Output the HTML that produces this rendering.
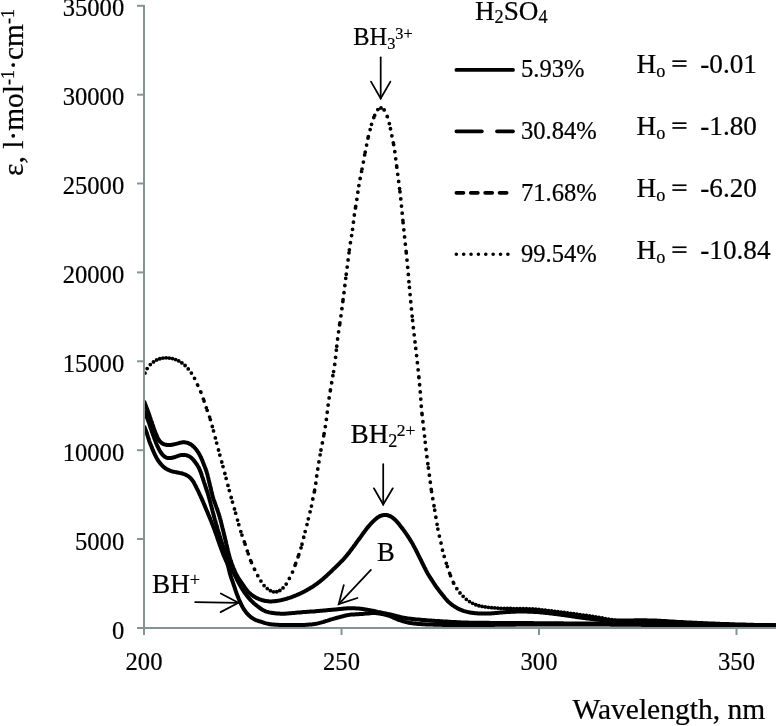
<!DOCTYPE html><html><head><meta charset="utf-8"><style>html,body{margin:0;padding:0;background:#fff;overflow:hidden;}svg{display:block;will-change:transform;}text{font-family:"Liberation Serif",serif;fill:#000;stroke:#000;stroke-width:0.22px;}</style></head><body>
<svg width="776" height="726" viewBox="0 0 776 726">
<g font-size="24.6" text-anchor="end">
<text x="124.2" y="638.5">0</text>
<text x="124.2" y="549.6">5000</text>
<text x="124.2" y="460.8">10000</text>
<text x="124.2" y="371.9">15000</text>
<text x="124.2" y="283.0">20000</text>
<text x="124.2" y="194.1">25000</text>
<text x="124.2" y="105.3">30000</text>
<text x="124.2" y="16.4">35000</text>
</g>
<g font-size="24.6" text-anchor="middle">
<text x="144.0" y="669.5">200</text>
<text x="341.5" y="669.5">250</text>
<text x="539.0" y="669.5">300</text>
<text x="736.5" y="669.5">350</text>
</g>
<text x="572.5" y="719" font-size="29.5">Wavelength, nm</text>
<text transform="translate(22.9,176) rotate(-90)" font-size="29.5">ε, l·mol<tspan dy="-9.4" font-size="18">-1</tspan><tspan dy="9.4">·cm</tspan><tspan dy="-9.4" font-size="18">-1</tspan></text>
<defs><clipPath id="pc"><rect x="144" y="0" width="632" height="628"/></clipPath></defs>
<g clip-path="url(#pc)">
<g fill="none" stroke="#000" stroke-width="4" stroke-linejoin="round" stroke-linecap="butt">
<path d="M144.0,426.0 144.4,426.9 144.8,427.8 145.1,428.8 145.5,429.7 145.9,430.6 146.2,431.6 146.6,432.5 146.9,433.4 147.2,434.4 147.5,435.4 147.8,436.3 148.1,437.3 148.4,438.2 148.7,439.2 149.0,440.1 149.3,441.1 149.6,442.0 150.0,443.0 150.3,443.9 150.7,444.8 151.1,445.7 151.5,446.7 151.8,447.6 152.2,448.5 152.6,449.4 153.0,450.4 153.4,451.3 153.8,452.2 154.2,453.1 154.6,454.0 155.0,454.9 155.5,455.8 155.9,456.7 156.4,457.6 156.9,458.5 157.4,459.3 157.9,460.2 158.5,461.0 159.0,461.8 159.6,462.6 160.3,463.4 160.9,464.2 161.6,464.9 162.3,465.6 163.0,466.3 163.7,467.0 164.5,467.6 165.3,468.2 166.1,468.7 167.0,469.2 167.9,469.7 168.8,470.1 169.7,470.5 170.6,470.9 171.5,471.2 172.5,471.5 173.5,471.7 174.4,471.9 175.4,472.1 176.4,472.3 177.4,472.5 178.4,472.7 179.3,472.9 180.3,473.1 181.3,473.3 182.3,473.5 183.2,473.8 184.2,474.1 185.1,474.5 186.0,474.9 186.9,475.4 187.7,475.9 188.5,476.4 189.3,477.0 190.1,477.7 190.8,478.4 191.4,479.1 192.0,479.9 192.6,480.7 193.2,481.5 193.7,482.4 194.2,483.2 194.6,484.1 195.1,485.0 195.6,485.9 196.0,486.8 196.5,487.7 196.9,488.6 197.4,489.5 197.8,490.4 198.3,491.3 198.7,492.2 199.1,493.1 199.5,494.0 199.9,494.9 200.4,495.8 200.8,496.7 201.2,497.6 201.6,498.5 202.0,499.4 202.4,500.4 202.8,501.3 203.2,502.2 203.6,503.1 204.0,504.0 204.4,505.0 204.7,505.9 205.1,506.8 205.5,507.7 205.9,508.6 206.3,509.6 206.7,510.5 207.1,511.4 207.5,512.3 207.9,513.3 208.2,514.2 208.6,515.1 209.0,516.0 209.4,516.9 209.8,517.9 210.2,518.8 210.5,519.7 210.9,520.6 211.3,521.6 211.7,522.5 212.0,523.4 212.4,524.4 212.8,525.3 213.1,526.2 213.5,527.2 213.8,528.1 214.2,529.0 214.5,530.0 214.9,530.9 215.2,531.9 215.5,532.8 215.9,533.7 216.2,534.7 216.5,535.6 216.9,536.6 217.2,537.5 217.5,538.5 217.8,539.4 218.2,540.4 218.5,541.3 218.8,542.2 219.2,543.2 219.5,544.1 219.8,545.1 220.2,546.0 220.5,546.9 220.9,547.9 221.2,548.8 221.5,549.8 221.9,550.7 222.2,551.6 222.6,552.6 222.9,553.5 223.3,554.4 223.7,555.4 224.1,556.3 224.5,557.2 224.9,558.1 225.3,559.0 225.7,560.0 226.1,560.9 226.5,561.8 226.9,562.7 227.2,563.6 227.6,564.6 227.9,565.5 228.2,566.5 228.4,567.4 228.7,568.4 228.9,569.4 229.1,570.4 229.4,571.3 229.6,572.3 229.8,573.3 230.1,574.2 230.4,575.2 230.7,576.2 231.0,577.1 231.3,578.0 231.7,579.0 232.0,579.9 232.3,580.9 232.7,581.8 233.0,582.7 233.3,583.7 233.6,584.6 233.9,585.6 234.3,586.5 234.6,587.5 234.9,588.5 235.2,589.4 235.5,590.3 235.8,591.3 236.2,592.2 236.5,593.2 236.9,594.1 237.2,595.0 237.6,596.0 237.9,596.9 238.3,597.8 238.7,598.8 239.1,599.7 239.5,600.6 239.9,601.5 240.3,602.4 240.7,603.3 241.1,604.2 241.6,605.1 242.0,606.0 242.5,606.9 243.0,607.8 243.5,608.6 244.0,609.5 244.6,610.3 245.2,611.1 245.8,611.9 246.4,612.7 247.0,613.4 247.7,614.2 248.4,614.9 249.1,615.6 249.9,616.3 250.6,616.9 251.4,617.5 252.2,618.1 253.1,618.6 253.9,619.1 254.8,619.6 255.7,620.0 256.6,620.4 257.6,620.7 258.5,621.0 259.5,621.3 260.4,621.5 261.4,621.8 262.3,622.1 263.3,622.5 264.2,622.8 265.2,623.1 266.1,623.4 267.1,623.6 268.1,623.8 269.0,624.0 270.0,624.2 271.0,624.3 272.0,624.4 273.0,624.5 274.0,624.6 275.0,624.7 276.0,624.7 277.0,624.8 278.0,624.8 279.0,624.9 280.0,624.9 281.0,624.9 282.0,625.0 283.0,625.0 284.0,625.0 285.0,625.0 286.0,625.0 287.0,625.0 288.0,625.0 289.0,625.0 290.0,625.0 291.0,625.0 292.0,625.0 293.0,625.0 294.0,625.0 295.0,625.0 296.0,625.0 297.0,625.0 298.0,625.0 299.0,625.0 300.0,625.0 301.0,625.0 302.0,625.0 303.0,624.9 304.0,624.9 305.0,624.9 306.0,624.8 307.0,624.8 308.0,624.7 309.0,624.6 310.0,624.6 311.0,624.5 312.0,624.4 313.0,624.2 313.9,624.1 314.9,623.9 315.9,623.8 316.9,623.6 317.9,623.4 318.8,623.1 319.8,622.9 320.8,622.6 321.7,622.4 322.7,622.1 323.7,621.8 324.6,621.5 325.6,621.2 326.5,620.9 327.5,620.6 328.4,620.3 329.4,620.0 330.3,619.7 331.3,619.4 332.3,619.1 333.2,618.8 334.2,618.6 335.1,618.3 336.1,618.0 337.1,617.7 338.0,617.5 339.0,617.2 340.0,617.0 340.9,616.7 341.9,616.5 342.9,616.2 343.8,616.0 344.8,615.7 345.8,615.5 346.7,615.3 347.7,615.1 348.7,614.9 349.7,614.8 350.7,614.6 351.7,614.6 352.7,614.5 353.7,614.4 354.7,614.4 355.7,614.3 356.7,614.3 357.7,614.2 358.7,614.2 359.7,614.1 360.7,614.1 361.7,614.0 362.7,613.9 363.7,613.8 364.6,613.7 365.6,613.6 366.6,613.5 367.6,613.4 368.6,613.4 369.6,613.3 370.6,613.2 371.6,613.1 372.6,613.1 373.6,613.1 374.6,613.1 375.6,613.1 376.6,613.2 377.6,613.3 378.6,613.4 379.6,613.6 380.6,613.8 381.5,613.9 382.5,614.1 383.5,614.4 384.5,614.6 385.4,614.8 386.4,615.1 387.4,615.3 388.3,615.6 389.3,615.9 390.2,616.2 391.2,616.6 392.1,617.0 393.0,617.4 393.9,617.8 394.8,618.2 395.7,618.6 396.6,619.0 397.5,619.4 398.5,619.8 399.4,620.1 400.4,620.4 401.3,620.7 402.3,621.0 403.2,621.3 404.2,621.5 405.2,621.8 406.1,622.1 407.1,622.3 408.1,622.5 409.0,622.8 410.0,622.9 411.0,623.1 412.0,623.2 413.0,623.4 414.0,623.5 415.0,623.6 416.0,623.7 417.0,623.8 418.0,623.9 419.0,623.9 420.0,624.0 421.0,624.1 422.0,624.2 423.0,624.2 424.0,624.3 425.0,624.3 426.0,624.4 427.0,624.4 428.0,624.5 429.0,624.5 429.9,624.6 430.9,624.6 431.9,624.6 432.9,624.6 433.9,624.7 434.9,624.7 435.9,624.7 436.9,624.7 437.9,624.8 438.9,624.8 439.9,624.8 440.9,624.8 441.9,624.8 442.9,624.9 443.9,624.9 444.9,624.9 445.9,624.9 446.9,624.9 447.9,624.9 448.9,625.0 449.9,625.0 450.9,625.0 451.9,625.0 452.9,625.0 453.9,625.0 454.9,625.0 455.9,625.0 456.9,625.1 457.9,625.1 458.9,625.1 459.9,625.1 460.9,625.1 462.0,625.1 463.0,625.1 464.0,625.1 465.0,625.1 466.0,625.1 467.0,625.1 468.0,625.1 469.0,625.1 470.0,625.1 471.0,625.1 472.0,625.1 473.0,625.1 474.0,625.1 475.0,625.1 476.0,625.1 477.0,625.0 478.0,625.0 479.0,625.0 480.0,625.0 481.0,625.0 482.0,625.0 483.0,625.0 484.0,625.0 485.0,625.0 486.0,624.9 487.0,624.9 488.0,624.9 489.0,624.9 490.0,624.9 491.0,624.9 492.0,624.9 493.0,624.9 494.0,624.9 495.0,624.8 496.0,624.8 497.0,624.8 498.0,624.8 499.0,624.8 500.0,624.8 501.0,624.8 502.0,624.8 503.0,624.8 504.0,624.8 505.0,624.8 506.0,624.7 507.0,624.7 508.0,624.7 509.0,624.7 510.0,624.7 511.0,624.7 512.0,624.7 513.0,624.7 514.0,624.7 515.0,624.7 516.0,624.6 517.0,624.6 518.0,624.6 519.0,624.6 520.0,624.6 521.0,624.6 522.0,624.6 523.0,624.6 524.0,624.6 525.0,624.6 526.0,624.6 527.0,624.6 528.0,624.6 529.0,624.5 530.0,624.5 531.0,624.5 532.0,624.5 533.0,624.5 534.0,624.5 535.0,624.5 536.0,624.5 537.0,624.5 538.0,624.5 539.0,624.5 540.0,624.5 541.0,624.5 542.0,624.5 543.0,624.5 544.0,624.5 545.0,624.5 546.0,624.5 547.0,624.5 548.0,624.5 549.0,624.5 550.0,624.5 551.0,624.5 552.0,624.5 553.0,624.5 554.0,624.5 555.0,624.5 556.0,624.5 557.0,624.5 558.0,624.5 559.0,624.5 560.0,624.5 561.0,624.5 562.0,624.5 563.0,624.5 564.0,624.5 565.0,624.5 566.0,624.5 567.0,624.5 568.0,624.5 569.0,624.5 570.0,624.5 571.0,624.5 572.0,624.5 573.0,624.5 574.0,624.5 575.0,624.5 576.0,624.5 577.0,624.5 578.0,624.5 579.0,624.5 580.0,624.5 581.0,624.5 582.0,624.5 583.0,624.5 584.0,624.5 585.0,624.6 586.0,624.6 587.0,624.6 588.0,624.6 589.0,624.6 590.0,624.6 591.0,624.6 592.0,624.6 593.0,624.6 594.0,624.6 595.0,624.6 596.0,624.6 597.0,624.6 598.0,624.6 599.0,624.6 600.0,624.6 601.0,624.6 602.0,624.6 603.0,624.6 604.0,624.6 605.0,624.6 606.0,624.6 607.0,624.6 608.0,624.6 609.0,624.6 610.0,624.6 611.0,624.7 612.0,624.7 613.0,624.7 614.0,624.7 615.0,624.7 616.0,624.7 617.0,624.7 618.0,624.7 619.0,624.7 620.0,624.7 621.0,624.7 622.0,624.7 623.0,624.7 624.0,624.7 625.0,624.7 626.0,624.7 627.0,624.8 628.0,624.8 629.0,624.8 630.0,624.8 631.0,624.8 632.0,624.8 633.0,624.8 634.0,624.8 635.0,624.8 636.0,624.8 637.0,624.8 638.0,624.8 639.0,624.8 640.0,624.8 641.0,624.8 642.0,624.9 643.0,624.9 644.0,624.9 645.0,624.9 646.0,624.9 647.0,624.9 648.0,624.9 649.0,624.9 650.0,624.9 651.0,624.9 652.0,624.9 653.0,624.9 654.0,624.9 655.0,624.9 656.0,624.9 657.0,624.9 658.0,624.9 659.0,624.9 660.0,624.9 661.0,624.9 662.0,625.0 663.0,625.0 664.0,625.0 665.0,625.0 666.0,625.0 667.0,625.0 668.0,625.0 669.0,625.0 670.0,625.0 671.0,625.0 672.0,625.0 673.0,625.0 674.0,625.0 675.0,625.0 676.0,625.0 677.0,625.0 678.0,625.0 679.0,625.0 680.0,625.0 681.0,625.0 682.0,625.0 683.0,625.0 684.0,625.0 685.0,625.0 686.0,625.0 687.0,625.0 688.0,625.0 689.0,625.1 690.0,625.1 691.0,625.1 692.0,625.1 693.0,625.1 694.0,625.1 695.0,625.1 696.0,625.1 697.0,625.1 698.0,625.1 699.0,625.1 700.0,625.1 701.0,625.1 702.0,625.1 703.0,625.1 704.0,625.1 705.0,625.1 706.0,625.1 707.0,625.1 708.0,625.1 709.0,625.1 710.0,625.1 711.0,625.2 712.0,625.2 713.0,625.2 714.0,625.2 715.0,625.2 716.0,625.2 717.0,625.2 718.0,625.2 719.0,625.2 720.0,625.2 721.0,625.2 722.0,625.2 723.0,625.2 724.0,625.2 725.0,625.2 726.0,625.2 727.0,625.2 728.0,625.2 729.0,625.2 730.0,625.3 731.0,625.3 732.0,625.3 733.0,625.3 734.0,625.3 735.0,625.3 736.0,625.3 737.0,625.3 738.0,625.3 739.0,625.3 740.0,625.3 741.0,625.3 742.0,625.3 743.0,625.3 744.0,625.3 745.0,625.3 746.0,625.3 747.0,625.3 748.0,625.3 749.0,625.4 750.0,625.4 751.0,625.4 752.0,625.4 753.0,625.4 754.0,625.4 755.0,625.4 756.0,625.4 757.0,625.4 758.0,625.4 759.0,625.4 760.0,625.4 761.0,625.4 762.0,625.4 763.0,625.4 764.0,625.4 765.0,625.4 766.0,625.4 767.0,625.5 768.0,625.5 769.0,625.5 770.0,625.5 771.0,625.5 772.0,625.5 773.0,625.5 774.0,625.5 775.0,625.5 776.0,625.5"/>
<path d="M144.0,410.8 144.4,411.7 144.8,412.6 145.2,413.5 145.6,414.4 146.0,415.4 146.4,416.3 146.8,417.2 147.2,418.1 147.6,419.1 147.9,420.0 148.3,420.9 148.6,421.9 149.0,422.8 149.3,423.8 149.6,424.7 149.9,425.7 150.2,426.6 150.5,427.6 150.8,428.5 151.2,429.5 151.5,430.4 151.8,431.4 152.1,432.3 152.5,433.2 152.8,434.2 153.1,435.1 153.5,436.1 153.8,437.0 154.2,437.9 154.5,438.9 154.9,439.8 155.2,440.8 155.6,441.7 156.0,442.6 156.3,443.5 156.7,444.5 157.1,445.4 157.5,446.3 158.0,447.2 158.4,448.1 158.8,449.0 159.3,449.9 159.8,450.8 160.3,451.6 160.8,452.5 161.4,453.3 162.0,454.1 162.6,454.8 163.3,455.5 164.0,456.2 164.8,456.8 165.6,457.2 166.5,457.6 167.4,457.9 168.3,458.0 169.3,458.1 170.3,458.1 171.2,457.9 172.2,457.8 173.2,457.5 174.1,457.3 175.1,457.0 176.0,456.6 177.0,456.3 177.9,455.9 178.8,455.6 179.8,455.3 180.7,455.1 181.7,454.9 182.7,454.9 183.7,454.9 184.6,454.9 185.6,455.1 186.6,455.3 187.5,455.6 188.4,456.0 189.3,456.4 190.1,456.9 190.9,457.5 191.7,458.1 192.4,458.8 193.1,459.6 193.7,460.3 194.3,461.1 195.0,461.9 195.6,462.7 196.1,463.5 196.7,464.3 197.3,465.1 197.8,466.0 198.3,466.8 198.8,467.7 199.2,468.6 199.6,469.5 200.0,470.4 200.4,471.4 200.7,472.3 201.1,473.2 201.4,474.2 201.7,475.1 202.0,476.1 202.3,477.0 202.7,478.0 203.0,478.9 203.3,479.9 203.6,480.8 203.9,481.8 204.2,482.7 204.6,483.7 204.9,484.6 205.2,485.6 205.5,486.5 205.8,487.5 206.1,488.4 206.4,489.4 206.7,490.3 207.1,491.3 207.4,492.2 207.7,493.2 208.0,494.1 208.3,495.1 208.6,496.0 208.8,497.0 209.1,498.0 209.4,498.9 209.6,499.9 209.9,500.9 210.2,501.8 210.4,502.8 210.7,503.8 210.9,504.7 211.2,505.7 211.4,506.7 211.7,507.6 211.9,508.6 212.2,509.6 212.4,510.5 212.7,511.5 212.9,512.5 213.2,513.4 213.5,514.4 213.7,515.4 214.0,516.3 214.2,517.3 214.5,518.3 214.8,519.2 215.0,520.2 215.3,521.2 215.6,522.1 215.9,523.1 216.1,524.0 216.4,525.0 216.7,526.0 217.0,526.9 217.3,527.9 217.5,528.8 217.8,529.8 218.1,530.8 218.4,531.7 218.7,532.7 219.0,533.6 219.3,534.6 219.6,535.6 219.9,536.5 220.2,537.5 220.5,538.4 220.8,539.4 221.1,540.3 221.4,541.3 221.7,542.2 222.0,543.2 222.4,544.1 222.7,545.1 223.0,546.0 223.3,546.9 223.7,547.9 224.0,548.8 224.4,549.8 224.7,550.7 225.0,551.7 225.4,552.6 225.7,553.5 226.1,554.5 226.4,555.4 226.8,556.3 227.1,557.3 227.5,558.2 227.8,559.2 228.1,560.1 228.5,561.0 228.8,562.0 229.2,562.9 229.6,563.8 229.9,564.8 230.3,565.7 230.7,566.6 231.0,567.6 231.4,568.5 231.8,569.4 232.3,570.3 232.7,571.2 233.1,572.1 233.6,573.0 234.1,573.9 234.5,574.7 235.0,575.6 235.5,576.5 235.9,577.4 236.4,578.3 236.8,579.2 237.2,580.1 237.7,581.0 238.2,581.9 238.6,582.8 239.1,583.6 239.6,584.5 240.1,585.4 240.6,586.3 241.1,587.1 241.6,588.0 242.1,588.8 242.7,589.7 243.2,590.5 243.7,591.3 244.3,592.2 244.9,593.0 245.5,593.8 246.1,594.6 246.7,595.4 247.3,596.2 247.9,597.0 248.6,597.7 249.2,598.5 249.9,599.2 250.5,600.0 251.2,600.7 251.9,601.4 252.6,602.1 253.4,602.8 254.1,603.5 254.9,604.1 255.6,604.8 256.4,605.4 257.2,606.0 258.0,606.6 258.8,607.2 259.6,607.8 260.4,608.4 261.2,609.0 262.0,609.5 262.9,610.0 263.8,610.5 264.7,610.9 265.6,611.3 266.5,611.6 267.5,611.9 268.4,612.2 269.4,612.4 270.4,612.6 271.4,612.8 272.4,613.0 273.3,613.1 274.3,613.2 275.3,613.3 276.3,613.4 277.3,613.5 278.3,613.6 279.3,613.6 280.3,613.7 281.3,613.7 282.3,613.7 283.3,613.7 284.3,613.7 285.3,613.7 286.3,613.6 287.3,613.5 288.3,613.4 289.3,613.3 290.3,613.3 291.3,613.2 292.3,613.1 293.3,613.0 294.3,612.9 295.3,612.8 296.3,612.7 297.3,612.6 298.3,612.5 299.3,612.4 300.3,612.4 301.3,612.3 302.3,612.2 303.2,612.1 304.2,612.0 305.2,612.0 306.2,611.9 307.2,611.8 308.2,611.8 309.2,611.7 310.2,611.6 311.2,611.6 312.2,611.5 313.2,611.4 314.2,611.4 315.2,611.3 316.2,611.2 317.2,611.1 318.2,611.0 319.2,610.9 320.2,610.8 321.2,610.8 322.2,610.7 323.2,610.6 324.2,610.5 325.2,610.4 326.2,610.3 327.2,610.2 328.2,610.1 329.2,610.0 330.2,609.9 331.2,609.8 332.2,609.7 333.2,609.7 334.2,609.6 335.1,609.5 336.1,609.4 337.1,609.3 338.1,609.2 339.1,609.1 340.1,609.0 341.1,608.9 342.1,608.8 343.1,608.7 344.1,608.6 345.1,608.5 346.1,608.4 347.1,608.3 348.1,608.3 349.1,608.3 350.1,608.2 351.1,608.2 352.1,608.2 353.1,608.3 354.1,608.3 355.1,608.3 356.1,608.4 357.1,608.4 358.1,608.5 359.1,608.6 360.1,608.7 361.1,608.8 362.1,608.9 363.1,609.1 364.0,609.2 365.0,609.4 366.0,609.5 367.0,609.7 368.0,609.9 369.0,610.1 370.0,610.2 370.9,610.4 371.9,610.6 372.9,610.8 373.9,611.0 374.9,611.2 375.8,611.4 376.8,611.6 377.8,611.9 378.8,612.1 379.7,612.3 380.7,612.5 381.7,612.7 382.7,612.9 383.7,613.1 384.6,613.3 385.6,613.5 386.6,613.7 387.6,613.9 388.6,614.1 389.5,614.3 390.5,614.5 391.5,614.8 392.5,615.0 393.4,615.2 394.4,615.5 395.4,615.7 396.3,616.0 397.3,616.3 398.3,616.5 399.2,616.7 400.2,617.0 401.2,617.2 402.2,617.4 403.1,617.6 404.1,617.8 405.1,618.0 406.1,618.1 407.1,618.3 408.1,618.4 409.1,618.6 410.1,618.7 411.0,618.8 412.0,619.0 413.0,619.1 414.0,619.2 415.0,619.3 416.0,619.4 417.0,619.5 418.0,619.5 419.0,619.6 420.0,619.7 421.0,619.8 422.0,619.9 423.0,620.0 424.0,620.1 425.0,620.1 426.0,620.2 427.0,620.3 428.0,620.4 429.0,620.4 430.0,620.5 431.0,620.6 432.0,620.7 433.0,620.7 434.0,620.8 435.0,620.9 436.0,620.9 437.0,621.0 438.0,621.1 439.0,621.1 440.0,621.2 441.0,621.3 442.0,621.3 442.9,621.4 443.9,621.5 444.9,621.5 445.9,621.6 446.9,621.6 447.9,621.7 448.9,621.7 449.9,621.8 450.9,621.9 451.9,621.9 452.9,622.0 453.9,622.0 454.9,622.1 455.9,622.1 456.9,622.2 457.9,622.2 458.9,622.3 459.9,622.3 460.9,622.4 461.9,622.4 462.9,622.5 463.9,622.5 464.9,622.5 465.9,622.6 466.9,622.6 467.9,622.6 468.9,622.7 469.9,622.7 470.9,622.7 471.9,622.7 472.9,622.7 473.9,622.8 474.9,622.8 475.9,622.8 476.9,622.8 477.9,622.8 478.9,622.8 479.9,622.8 480.9,622.8 481.9,622.8 482.9,622.8 483.9,622.8 484.9,622.8 485.9,622.8 486.9,622.8 487.9,622.8 488.9,622.8 489.9,622.9 490.9,622.9 491.9,622.9 492.9,622.9 493.9,622.9 494.9,622.9 495.9,622.9 496.9,622.9 497.9,622.9 498.9,622.9 499.9,622.9 500.9,622.9 501.9,622.9 502.9,622.9 503.9,622.9 504.9,622.9 505.9,622.9 506.9,623.0 507.9,623.0 508.9,623.0 509.9,623.0 510.9,623.0 511.9,623.0 512.9,623.0 513.9,623.0 514.9,623.0 515.9,623.0 516.9,623.0 517.9,623.0 518.9,623.0 519.9,623.1 520.9,623.1 521.9,623.1 522.9,623.1 523.9,623.1 524.9,623.1 525.9,623.1 526.9,623.1 527.9,623.1 528.9,623.1 529.9,623.1 530.9,623.1 531.9,623.1 532.9,623.1 533.9,623.2 534.9,623.2 535.9,623.2 536.9,623.2 537.9,623.2 538.9,623.2 539.9,623.2 540.9,623.2 541.9,623.2 542.9,623.2 543.9,623.2 544.9,623.2 545.9,623.2 546.9,623.2 547.9,623.3 548.9,623.3 549.9,623.3 550.9,623.3 551.9,623.3 552.9,623.3 553.9,623.3 554.9,623.3 555.9,623.3 556.9,623.3 557.9,623.3 558.9,623.3 559.9,623.3 560.9,623.3 561.9,623.3 562.9,623.3 563.9,623.4 564.9,623.4 565.9,623.4 566.9,623.4 567.9,623.4 568.9,623.4 569.9,623.4 570.9,623.4 572.0,623.4 573.0,623.4 574.0,623.4 575.0,623.4 576.0,623.4 577.0,623.4 578.0,623.4 579.0,623.4 580.0,623.5 581.0,623.5 582.0,623.5 583.0,623.5 584.0,623.5 585.0,623.5 586.0,623.5 587.0,623.5 588.0,623.5 589.0,623.5 590.0,623.5 591.0,623.5 592.0,623.5 593.0,623.5 594.0,623.6 595.0,623.6 596.0,623.6 597.0,623.6 598.0,623.6 599.0,623.6 600.0,623.6 601.0,623.6 602.0,623.6 603.0,623.6 604.0,623.6 605.0,623.6 606.0,623.7 607.0,623.7 608.0,623.7 609.0,623.7 610.0,623.7 611.0,623.7 612.0,623.7 613.0,623.7 614.0,623.7 615.0,623.7 616.0,623.7 617.0,623.8 618.0,623.8 619.0,623.8 620.0,623.8 621.0,623.8 622.0,623.8 623.0,623.8 624.0,623.8 625.0,623.8 626.0,623.8 627.0,623.9 628.0,623.9 629.0,623.9 630.0,623.9 631.0,623.9 632.0,623.9 633.0,623.9 634.0,623.9 635.0,623.9 636.0,624.0 637.0,624.0 638.0,624.0 639.0,624.0 640.0,624.0 641.0,624.0 642.0,624.0 643.0,624.0 644.0,624.0 645.0,624.0 646.0,624.1 647.0,624.1 648.0,624.1 649.0,624.1 650.0,624.1 651.0,624.1 652.0,624.1 653.0,624.1 654.0,624.1 655.0,624.2 656.0,624.2 657.0,624.2 658.0,624.2 659.0,624.2 660.0,624.2 661.0,624.2 662.0,624.2 663.0,624.2 664.0,624.2 665.0,624.3 666.0,624.3 667.0,624.3 668.0,624.3 669.0,624.3 670.0,624.3 671.0,624.3 672.0,624.3 673.0,624.3 674.0,624.3 675.0,624.4 676.0,624.4 677.0,624.4 678.0,624.4 679.0,624.4 680.0,624.4 681.0,624.4 682.0,624.4 683.0,624.4 684.0,624.5 685.0,624.5 686.0,624.5 687.0,624.5 688.0,624.5 689.0,624.5 690.0,624.5 691.0,624.5 692.0,624.5 693.0,624.5 694.0,624.5 695.0,624.6 696.0,624.6 697.0,624.6 698.0,624.6 699.0,624.6 700.0,624.6 701.0,624.6 702.0,624.6 703.0,624.6 704.0,624.6 705.0,624.6 706.0,624.7 707.0,624.7 708.0,624.7 709.0,624.7 710.0,624.7 711.0,624.7 712.0,624.7 713.0,624.7 714.0,624.7 715.0,624.7 716.0,624.7 717.0,624.7 718.0,624.7 719.0,624.8 720.0,624.8 721.0,624.8 722.0,624.8 723.0,624.8 724.0,624.8 725.0,624.8 726.0,624.8 727.0,624.8 728.0,624.8 729.0,624.8 730.0,624.8 731.0,624.9 732.0,624.9 733.0,624.9 734.0,624.9 735.0,624.9 736.0,624.9 737.0,624.9 738.0,624.9 739.0,624.9 740.0,624.9 741.0,624.9 742.0,624.9 743.0,624.9 744.0,625.0 745.0,625.0 746.0,625.0 747.0,625.0 748.0,625.0 749.0,625.0 750.0,625.0 751.0,625.0 752.0,625.0 753.0,625.0 754.0,625.0 755.0,625.0 756.0,625.0 757.0,625.1 758.0,625.1 759.0,625.1 760.0,625.1 761.0,625.1 762.0,625.1 763.0,625.1 764.0,625.1 765.0,625.1 766.0,625.1 767.0,625.1 768.0,625.1 769.0,625.1 770.0,625.2 771.0,625.2 772.0,625.2 773.0,625.2 774.0,625.2 775.0,625.2 776.0,625.2"/>
<path d="M144.0,401.0 144.4,401.9 144.7,402.9 145.1,403.8 145.4,404.7 145.8,405.7 146.1,406.6 146.5,407.5 146.9,408.5 147.2,409.4 147.6,410.3 147.9,411.3 148.3,412.2 148.6,413.2 148.9,414.1 149.3,415.1 149.6,416.0 149.9,416.9 150.3,417.9 150.6,418.8 150.9,419.8 151.2,420.7 151.6,421.7 151.9,422.6 152.2,423.6 152.5,424.5 152.9,425.5 153.2,426.4 153.5,427.3 153.8,428.3 154.2,429.2 154.5,430.2 154.9,431.1 155.2,432.0 155.6,433.0 156.0,433.9 156.4,434.8 156.8,435.7 157.2,436.7 157.6,437.6 158.0,438.4 158.5,439.3 159.0,440.2 159.6,440.9 160.2,441.7 160.9,442.4 161.7,443.0 162.5,443.5 163.4,444.0 164.3,444.3 165.2,444.6 166.1,444.8 167.1,445.0 168.1,445.0 169.1,445.1 170.1,445.0 171.1,444.9 172.0,444.7 173.0,444.6 174.0,444.3 175.0,444.1 175.9,443.9 176.9,443.6 177.9,443.4 178.8,443.1 179.8,442.8 180.8,442.6 181.7,442.4 182.7,442.3 183.7,442.2 184.7,442.3 185.6,442.4 186.6,442.6 187.5,442.9 188.4,443.2 189.3,443.7 190.2,444.1 191.1,444.6 191.9,445.2 192.7,445.8 193.4,446.5 194.1,447.1 194.8,447.9 195.5,448.6 196.1,449.4 196.7,450.2 197.3,451.0 197.8,451.8 198.4,452.7 198.9,453.5 199.4,454.4 199.9,455.3 200.3,456.1 200.7,457.0 201.2,458.0 201.6,458.9 202.0,459.8 202.4,460.7 202.7,461.6 203.1,462.6 203.5,463.5 203.8,464.4 204.2,465.4 204.6,466.3 204.9,467.2 205.3,468.2 205.6,469.1 206.0,470.0 206.3,471.0 206.6,471.9 206.9,472.9 207.2,473.8 207.5,474.8 207.7,475.8 207.9,476.7 208.2,477.7 208.4,478.7 208.6,479.7 208.9,480.6 209.1,481.6 209.3,482.6 209.6,483.6 209.8,484.5 210.0,485.5 210.3,486.5 210.5,487.5 210.7,488.4 211.0,489.4 211.2,490.4 211.4,491.3 211.7,492.3 211.9,493.3 212.2,494.3 212.4,495.2 212.7,496.2 212.9,497.2 213.2,498.1 213.5,499.1 213.8,500.0 214.2,501.0 214.5,501.9 214.8,502.8 215.2,503.8 215.5,504.7 215.9,505.7 216.2,506.6 216.5,507.5 216.9,508.5 217.2,509.4 217.5,510.4 217.9,511.3 218.2,512.3 218.5,513.2 218.8,514.2 219.1,515.1 219.4,516.1 219.7,517.0 219.9,518.0 220.2,519.0 220.5,519.9 220.7,520.9 221.0,521.9 221.2,522.8 221.5,523.8 221.7,524.8 221.9,525.8 222.2,526.7 222.4,527.7 222.7,528.7 222.9,529.6 223.2,530.6 223.4,531.6 223.6,532.6 223.9,533.5 224.1,534.5 224.3,535.5 224.6,536.4 224.8,537.4 225.0,538.4 225.3,539.4 225.5,540.3 225.7,541.3 226.0,542.3 226.2,543.3 226.4,544.2 226.7,545.2 226.9,546.2 227.1,547.1 227.3,548.1 227.6,549.1 227.8,550.1 228.0,551.0 228.3,552.0 228.5,553.0 228.8,554.0 229.0,554.9 229.3,555.9 229.5,556.9 229.8,557.8 230.1,558.8 230.4,559.7 230.7,560.7 231.0,561.6 231.4,562.6 231.7,563.5 232.0,564.5 232.4,565.4 232.7,566.3 233.1,567.3 233.5,568.2 233.9,569.1 234.3,570.0 234.7,570.9 235.1,571.9 235.5,572.8 235.9,573.7 236.4,574.5 236.9,575.4 237.4,576.3 237.9,577.2 238.4,578.0 238.9,578.8 239.5,579.7 240.1,580.5 240.6,581.3 241.2,582.2 241.7,583.0 242.3,583.8 242.8,584.7 243.4,585.5 244.0,586.3 244.5,587.2 245.1,588.0 245.7,588.8 246.3,589.6 246.9,590.3 247.6,591.1 248.2,591.8 248.9,592.5 249.7,593.2 250.4,593.9 251.2,594.5 252.0,595.1 252.8,595.7 253.6,596.3 254.5,596.8 255.3,597.3 256.2,597.8 257.1,598.2 258.0,598.6 258.9,599.0 259.8,599.4 260.8,599.7 261.7,600.0 262.7,600.3 263.7,600.5 264.6,600.8 265.6,601.0 266.6,601.1 267.6,601.2 268.6,601.3 269.6,601.4 270.6,601.4 271.6,601.4 272.6,601.3 273.6,601.3 274.6,601.2 275.5,601.0 276.5,600.9 277.5,600.8 278.5,600.6 279.5,600.4 280.5,600.3 281.5,600.1 282.4,599.8 283.4,599.6 284.4,599.3 285.3,599.1 286.3,598.8 287.3,598.5 288.2,598.2 289.2,597.9 290.1,597.6 291.1,597.3 292.0,596.9 292.9,596.6 293.9,596.2 294.8,595.8 295.7,595.5 296.7,595.1 297.6,594.7 298.5,594.3 299.4,593.9 300.3,593.5 301.2,593.0 302.1,592.6 303.0,592.2 303.9,591.7 304.8,591.3 305.7,590.8 306.6,590.3 307.4,589.8 308.3,589.3 309.2,588.8 310.0,588.3 310.9,587.8 311.7,587.2 312.6,586.7 313.4,586.2 314.2,585.6 315.0,585.0 315.9,584.5 316.7,583.9 317.5,583.3 318.3,582.7 319.1,582.1 319.9,581.5 320.6,580.8 321.4,580.2 322.2,579.6 323.0,578.9 323.7,578.3 324.5,577.6 325.2,576.9 326.0,576.3 326.7,575.6 327.4,574.9 328.2,574.2 328.9,573.5 329.6,572.9 330.3,572.2 331.1,571.5 331.8,570.8 332.5,570.1 333.2,569.4 333.9,568.7 334.7,568.0 335.4,567.3 336.1,566.6 336.8,565.9 337.6,565.2 338.3,564.5 339.0,563.8 339.7,563.1 340.4,562.4 341.1,561.7 341.8,561.0 342.5,560.3 343.2,559.6 343.9,558.8 344.5,558.1 345.2,557.3 345.8,556.6 346.5,555.8 347.1,555.0 347.7,554.2 348.4,553.5 349.0,552.7 349.6,551.9 350.2,551.1 350.8,550.3 351.4,549.5 352.0,548.7 352.6,547.9 353.2,547.1 353.8,546.3 354.4,545.5 355.0,544.7 355.6,543.8 356.2,543.0 356.7,542.2 357.3,541.4 357.9,540.6 358.5,539.8 359.1,539.0 359.7,538.2 360.3,537.4 360.9,536.6 361.5,535.8 362.0,535.0 362.6,534.1 363.2,533.3 363.8,532.5 364.4,531.7 365.0,530.9 365.6,530.1 366.2,529.3 366.8,528.5 367.4,527.7 368.1,527.0 368.7,526.2 369.4,525.4 370.0,524.7 370.7,523.9 371.4,523.2 372.0,522.5 372.7,521.8 373.4,521.1 374.2,520.4 374.9,519.7 375.7,519.0 376.4,518.4 377.2,517.8 378.0,517.2 378.9,516.7 379.7,516.2 380.6,515.8 381.6,515.5 382.5,515.3 383.5,515.1 384.4,515.0 385.4,515.0 386.4,515.1 387.4,515.2 388.3,515.5 389.2,515.8 390.1,516.2 391.0,516.6 391.9,517.2 392.7,517.7 393.5,518.3 394.2,519.0 394.9,519.7 395.7,520.3 396.4,521.1 397.0,521.8 397.7,522.6 398.3,523.3 399.0,524.1 399.6,524.9 400.2,525.7 400.8,526.5 401.4,527.2 402.0,528.0 402.6,528.8 403.2,529.6 403.8,530.4 404.4,531.2 405.0,532.1 405.6,532.9 406.2,533.7 406.7,534.5 407.3,535.4 407.8,536.2 408.4,537.0 408.9,537.9 409.5,538.7 410.0,539.6 410.5,540.4 411.1,541.3 411.6,542.1 412.1,543.0 412.6,543.8 413.1,544.7 413.5,545.6 414.0,546.5 414.5,547.4 414.9,548.2 415.4,549.1 415.9,550.0 416.3,550.9 416.8,551.8 417.2,552.7 417.7,553.6 418.1,554.5 418.5,555.4 419.0,556.3 419.4,557.2 419.9,558.1 420.3,559.0 420.8,559.9 421.2,560.8 421.7,561.7 422.1,562.6 422.5,563.5 423.0,564.4 423.4,565.3 423.9,566.2 424.3,567.1 424.8,568.0 425.2,568.8 425.7,569.7 426.1,570.6 426.6,571.5 427.1,572.4 427.5,573.3 428.0,574.1 428.6,575.0 429.1,575.8 429.6,576.7 430.2,577.5 430.7,578.4 431.2,579.2 431.8,580.0 432.3,580.9 432.9,581.7 433.4,582.6 434.0,583.4 434.5,584.2 435.1,585.1 435.6,585.9 436.2,586.7 436.8,587.5 437.4,588.3 438.0,589.1 438.6,589.9 439.2,590.7 439.8,591.5 440.4,592.3 441.1,593.1 441.7,593.9 442.3,594.6 442.9,595.4 443.6,596.2 444.2,597.0 444.8,597.8 445.4,598.5 446.1,599.3 446.8,600.0 447.4,600.8 448.1,601.5 448.9,602.2 449.6,602.8 450.4,603.5 451.1,604.1 451.9,604.7 452.7,605.3 453.6,605.9 454.4,606.4 455.2,607.0 456.1,607.5 457.0,608.0 457.8,608.5 458.7,608.9 459.6,609.3 460.5,609.7 461.5,610.1 462.4,610.5 463.3,610.8 464.3,611.1 465.2,611.4 466.2,611.6 467.2,611.9 468.2,612.1 469.1,612.3 470.1,612.5 471.1,612.7 472.1,612.8 473.1,613.0 474.1,613.1 475.1,613.2 476.1,613.2 477.1,613.3 478.1,613.4 479.1,613.4 480.1,613.4 481.1,613.5 482.1,613.5 483.1,613.5 484.1,613.5 485.1,613.6 486.1,613.6 487.1,613.5 488.1,613.5 489.1,613.5 490.1,613.5 491.1,613.4 492.1,613.3 493.1,613.3 494.1,613.2 495.0,613.1 496.0,613.0 497.0,612.9 498.0,612.8 499.0,612.7 500.0,612.6 501.0,612.5 502.0,612.4 503.0,612.3 504.0,612.2 505.0,612.2 506.0,612.1 507.0,612.0 508.0,612.0 509.0,611.9 510.0,611.9 511.0,611.8 512.0,611.8 513.0,611.7 514.0,611.7 515.0,611.7 516.0,611.6 517.0,611.6 518.0,611.6 519.0,611.6 520.0,611.6 521.0,611.6 522.0,611.6 523.0,611.6 524.0,611.6 525.0,611.6 526.0,611.6 527.0,611.6 528.0,611.7 529.0,611.7 530.0,611.7 531.0,611.7 532.0,611.8 533.0,611.8 534.0,611.9 535.0,611.9 536.0,612.0 537.0,612.1 538.0,612.1 539.0,612.2 540.0,612.3 541.0,612.4 542.0,612.5 543.0,612.6 544.0,612.7 545.0,612.8 546.0,612.9 547.0,613.0 548.0,613.1 548.9,613.2 549.9,613.4 550.9,613.5 551.9,613.6 552.9,613.7 553.9,613.8 554.9,614.0 555.9,614.1 556.9,614.2 557.9,614.3 558.9,614.5 559.9,614.6 560.9,614.7 561.8,614.9 562.8,615.0 563.8,615.1 564.8,615.3 565.8,615.4 566.8,615.6 567.8,615.7 568.8,615.8 569.8,616.0 570.8,616.1 571.8,616.3 572.7,616.4 573.7,616.6 574.7,616.7 575.7,616.9 576.7,617.0 577.7,617.2 578.7,617.3 579.7,617.4 580.7,617.6 581.7,617.7 582.6,617.8 583.6,618.0 584.6,618.1 585.6,618.2 586.6,618.4 587.6,618.5 588.6,618.6 589.6,618.7 590.6,618.9 591.6,619.0 592.6,619.1 593.6,619.2 594.6,619.4 595.6,619.5 596.5,619.6 597.5,619.7 598.5,619.8 599.5,619.8 600.5,619.9 601.5,620.0 602.5,620.0 603.5,620.1 604.5,620.1 605.5,620.2 606.5,620.2 607.5,620.3 608.5,620.3 609.5,620.4 610.5,620.4 611.5,620.4 612.5,620.4 613.5,620.5 614.5,620.5 615.5,620.5 616.5,620.5 617.5,620.5 618.5,620.5 619.5,620.5 620.5,620.5 621.5,620.5 622.5,620.5 623.5,620.5 624.5,620.5 625.5,620.5 626.5,620.4 627.5,620.4 628.5,620.4 629.5,620.4 630.5,620.4 631.5,620.4 632.5,620.4 633.5,620.4 634.5,620.3 635.5,620.3 636.5,620.3 637.5,620.3 638.5,620.3 639.5,620.3 640.5,620.3 641.5,620.3 642.5,620.3 643.5,620.3 644.5,620.3 645.5,620.3 646.5,620.3 647.5,620.4 648.5,620.4 649.5,620.4 650.5,620.4 651.5,620.5 652.5,620.5 653.5,620.5 654.5,620.6 655.5,620.6 656.5,620.6 657.5,620.7 658.5,620.7 659.5,620.8 660.5,620.8 661.5,620.9 662.5,620.9 663.5,621.0 664.5,621.1 665.5,621.1 666.5,621.2 667.5,621.2 668.5,621.3 669.5,621.4 670.5,621.4 671.5,621.5 672.5,621.5 673.5,621.6 674.5,621.7 675.5,621.7 676.5,621.8 677.5,621.9 678.5,621.9 679.5,622.0 680.5,622.0 681.5,622.1 682.5,622.1 683.5,622.2 684.5,622.2 685.5,622.3 686.5,622.4 687.5,622.4 688.5,622.5 689.5,622.5 690.5,622.6 691.5,622.6 692.5,622.7 693.5,622.7 694.5,622.7 695.5,622.8 696.5,622.8 697.5,622.9 698.5,622.9 699.5,623.0 700.5,623.0 701.5,623.1 702.5,623.1 703.5,623.2 704.5,623.2 705.5,623.2 706.5,623.3 707.5,623.3 708.5,623.4 709.5,623.4 710.5,623.5 711.5,623.5 712.5,623.5 713.5,623.6 714.5,623.6 715.5,623.7 716.5,623.7 717.5,623.8 718.5,623.8 719.5,623.8 720.5,623.9 721.5,623.9 722.5,623.9 723.5,624.0 724.5,624.0 725.5,624.0 726.5,624.1 727.5,624.1 728.5,624.1 729.5,624.2 730.5,624.2 731.5,624.2 732.5,624.3 733.5,624.3 734.5,624.3 735.5,624.4 736.5,624.4 737.5,624.4 738.5,624.4 739.5,624.5 740.5,624.5 741.5,624.5 742.5,624.6 743.5,624.6 744.5,624.6 745.5,624.6 746.5,624.7 747.5,624.7 748.5,624.7 749.5,624.7 750.5,624.8 751.5,624.8 752.5,624.8 753.5,624.8 754.5,624.9 755.5,624.9 756.5,624.9 757.5,624.9 758.5,625.0 759.5,625.0 760.5,625.0 761.5,625.0 762.5,625.1 763.5,625.1 764.5,625.1 765.5,625.1 766.5,625.2 767.5,625.2 768.5,625.2 769.5,625.2 770.5,625.3 771.5,625.3 772.5,625.3 773.5,625.3 774.5,625.4 775.5,625.4 776.0,625.4"/>
</g>
<path d="M145.00,373.10 L145.10,372.87 L145.19,372.64 L145.29,372.41 L145.39,372.18 L145.49,371.95 L145.58,371.72 L145.68,371.49 L145.79,371.26 L145.89,371.04 L145.99,370.81 L146.10,370.58 L146.20,370.36 L146.31,370.14 L146.42,369.91 L146.53,369.69 L146.65,369.47 L146.77,369.25 L146.89,369.04 L147.01,368.82 L147.14,368.61 L147.16,368.57M147.16,368.57 L147.26,368.40 L147.40,368.19 L147.53,367.98 L147.67,367.77 L147.81,367.57 L147.95,367.37 L148.09,367.16 L148.24,366.97 L148.39,366.77 L148.54,366.57 L148.70,366.38 L148.86,366.19 L149.02,366.00 L149.18,365.81 L149.34,365.63 L149.51,365.44 L149.68,365.26 L149.85,365.08 L150.02,364.90 L150.20,364.72 L150.32,364.60M150.32,364.60 L150.37,364.55 L150.55,364.37 L150.73,364.20 L150.91,364.03 L151.09,363.86 L151.28,363.69 L151.46,363.52 L151.65,363.35 L151.83,363.19 L152.02,363.03 L152.21,362.87 L152.41,362.71 L152.60,362.55 L152.79,362.40 L152.99,362.25 L153.19,362.09 L153.39,361.94 L153.48,361.88M153.48,361.88 L153.59,361.80 L153.79,361.65 L153.99,361.51 L154.20,361.37 L154.40,361.23 L154.61,361.10 L154.82,360.96 L155.03,360.83 L155.24,360.70 L155.46,360.58 L155.67,360.46 L155.89,360.34 L156.11,360.22 L156.33,360.10 L156.55,359.99 L156.64,359.95M156.64,359.95 L156.77,359.89 L157.00,359.78 L157.22,359.68 L157.45,359.58 L157.68,359.49 L157.91,359.40 L158.14,359.31 L158.37,359.22 L158.61,359.14 L158.84,359.06 L159.08,358.99 L159.32,358.91 L159.55,358.84 L159.79,358.78 L159.80,358.77M159.80,358.77 L160.03,358.71 L160.27,358.65 L160.51,358.59 L160.76,358.53 L161.00,358.48 L161.24,358.43 L161.49,358.38 L161.73,358.33 L161.97,358.28 L162.22,358.24 L162.47,358.20 L162.71,358.16 L162.96,358.12 L162.96,358.12M162.96,358.12 L163.20,358.09 L163.45,358.06 L163.70,358.03 L163.95,358.00 L164.19,357.97 L164.44,357.95 L164.69,357.93 L164.94,357.91 L165.18,357.90 L165.43,357.88 L165.68,357.87 L165.93,357.87 L166.12,357.86M166.12,357.86 L166.18,357.86 L166.43,357.86 L166.67,357.86 L166.92,357.87 L167.17,357.87 L167.42,357.88 L167.67,357.90 L167.92,357.91 L168.16,357.93 L168.41,357.95 L168.66,357.97 L168.91,358.00 L169.15,358.03 L169.28,358.04M169.28,358.04 L169.40,358.06 L169.65,358.09 L169.89,358.12 L170.14,358.16 L170.39,358.20 L170.63,358.24 L170.88,358.28 L171.12,358.33 L171.37,358.37 L171.61,358.42 L171.86,358.47 L172.10,358.53 L172.34,358.58 L172.44,358.61M172.44,358.61 L172.58,358.64 L172.83,358.70 L173.07,358.76 L173.31,358.82 L173.55,358.89 L173.79,358.95 L174.03,359.02 L174.27,359.10 L174.50,359.17 L174.74,359.25 L174.98,359.32 L175.21,359.40 L175.45,359.49 L175.60,359.54M175.60,359.54 L175.68,359.57 L175.91,359.66 L176.15,359.75 L176.38,359.84 L176.61,359.94 L176.84,360.03 L177.07,360.13 L177.29,360.23 L177.52,360.34 L177.74,360.44 L177.97,360.55 L178.19,360.66 L178.41,360.77 L178.63,360.89 L178.76,360.96M178.76,360.96 L178.85,361.01 L179.07,361.13 L179.29,361.25 L179.50,361.37 L179.72,361.50 L179.93,361.63 L180.14,361.75 L180.36,361.89 L180.57,362.02 L180.78,362.15 L180.98,362.29 L181.19,362.43 L181.40,362.57 L181.60,362.71 L181.81,362.85 L181.92,362.93M181.92,362.93 L182.01,363.00 L182.21,363.14 L182.41,363.29 L182.61,363.44 L182.81,363.59 L183.01,363.74 L183.21,363.90 L183.40,364.05 L183.60,364.21 L183.79,364.37 L183.98,364.53 L184.17,364.69 L184.36,364.85 L184.55,365.01 L184.73,365.18 L184.92,365.35 L185.08,365.50M185.08,365.50 L185.10,365.52 L185.28,365.69 L185.46,365.86 L185.64,366.03 L185.82,366.21 L185.99,366.38 L186.16,366.56 L186.34,366.74 L186.51,366.92 L186.68,367.11 L186.84,367.29 L187.01,367.48 L187.18,367.66 L187.34,367.85 L187.50,368.04 L187.66,368.23 L187.82,368.42 L187.98,368.61 L188.14,368.81 L188.24,368.92M188.24,368.92 L188.30,369.00 L188.46,369.19 L188.62,369.39 L188.77,369.58 L188.93,369.78 L189.08,369.97 L189.23,370.17 L189.39,370.37 L189.54,370.57 L189.69,370.77 L189.84,370.96 L189.99,371.16 L190.14,371.36 L190.29,371.57 L190.44,371.77 L190.59,371.97 L190.73,372.17 L190.88,372.37 L191.02,372.58 L191.17,372.78 L191.31,372.99 L191.40,373.12M191.40,373.12 L191.45,373.19 L191.59,373.40 L191.73,373.60 L191.87,373.81 L192.01,374.02 L192.15,374.23 L192.28,374.44 L192.42,374.65 L192.55,374.86 L192.69,375.07 L192.82,375.28 L192.95,375.49 L193.08,375.71 L193.21,375.92 L193.34,376.13 L193.47,376.35 L193.59,376.57 L193.72,376.78 L193.84,377.00 L193.96,377.22 L194.08,377.43 L194.20,377.65 L194.32,377.87 L194.44,378.09 L194.56,378.31 L194.56,378.32M194.56,378.32 L194.67,378.53 L194.79,378.76 L194.90,378.98 L195.01,379.20 L195.12,379.43 L195.23,379.65 L195.34,379.88 L195.45,380.10 L195.55,380.33 L195.66,380.55 L195.76,380.78 L195.87,381.01 L195.97,381.24 L196.07,381.46 L196.17,381.69 L196.27,381.92 L196.37,382.15 L196.47,382.38 L196.57,382.61 L196.67,382.84 L196.76,383.07 L196.86,383.30 L196.96,383.53 L197.06,383.76 L197.16,383.99 L197.26,384.22 L197.35,384.45 L197.45,384.68 L197.55,384.91 L197.65,385.14 L197.72,385.29M197.72,385.29 L197.75,385.36 L197.85,385.59 L197.96,385.82 L198.06,386.05 L198.16,386.28 L198.26,386.51 L198.37,386.73 L198.47,386.96 L198.57,387.19 L198.68,387.42 L198.78,387.64 L198.89,387.87 L198.99,388.10 L199.10,388.32 L199.20,388.55 L199.31,388.78 L199.41,389.00 L199.52,389.23 L199.62,389.46 L199.73,389.68 L199.83,389.91 L199.94,390.14 L200.04,390.37 L200.14,390.59 L200.24,390.82 L200.35,391.05 L200.45,391.28 L200.55,391.51 L200.65,391.74 L200.75,391.97 L200.84,392.20 L200.88,392.28M200.88,392.28 L200.94,392.43 L201.04,392.66 L201.13,392.89 L201.23,393.12 L201.32,393.35 L201.41,393.58 L201.50,393.81 L201.59,394.05 L201.68,394.28 L201.77,394.51 L201.86,394.75 L201.95,394.98 L202.04,395.22 L202.12,395.45 L202.21,395.69 L202.29,395.92 L202.38,396.16 L202.46,396.39 L202.54,396.63 L202.63,396.86 L202.71,397.10 L202.79,397.34 L202.87,397.57 L202.95,397.81 L203.03,398.04 L203.11,398.28 L203.20,398.52 L203.28,398.75 L203.36,398.99 L203.44,399.23 L203.52,399.46 L203.60,399.70 L203.68,399.94 L203.76,400.17 L203.84,400.41 L203.92,400.65 L204.00,400.89 L204.04,401.01M204.04,401.01 L204.08,401.12 L204.16,401.36 L204.24,401.60 L204.32,401.83 L204.40,402.07 L204.48,402.31 L204.56,402.54 L204.64,402.78 L204.72,403.02 L204.80,403.25 L204.88,403.49 L204.96,403.73 L205.03,403.97 L205.11,404.20 L205.19,404.44 L205.27,404.68 L205.35,404.91 L205.43,405.15 L205.51,405.39 L205.59,405.62 L205.67,405.86 L205.75,406.10 L205.83,406.33 L205.91,406.57 L206.00,406.81 L206.08,407.04 L206.16,407.28 L206.24,407.52 L206.32,407.75 L206.40,407.99 L206.48,408.23 L206.56,408.46 L206.65,408.70 L206.73,408.94 L206.81,409.17 L206.89,409.41 L206.98,409.64 L207.06,409.88 L207.14,410.11 L207.20,410.28M207.20,410.28 L207.22,410.35 L207.31,410.59 L207.39,410.82 L207.48,411.06 L207.56,411.29 L207.64,411.53 L207.73,411.76 L207.81,412.00 L207.90,412.23 L207.98,412.47 L208.06,412.71 L208.15,412.94 L208.23,413.18 L208.31,413.41 L208.40,413.65 L208.48,413.88 L208.56,414.12 L208.65,414.36 L208.73,414.59 L208.81,414.83 L208.89,415.06 L208.98,415.30 L209.06,415.54 L209.14,415.77 L209.22,416.01 L209.30,416.25 L209.38,416.48 L209.46,416.72 L209.54,416.96 L209.61,417.20 L209.69,417.43 L209.77,417.67 L209.84,417.91 L209.92,418.15 L210.00,418.39 L210.07,418.62 L210.15,418.86 L210.22,419.10 L210.29,419.34 L210.36,419.56M210.36,419.56 L210.37,419.58 L210.44,419.82 L210.51,420.06 L210.58,420.30 L210.65,420.54 L210.72,420.78 L210.79,421.02 L210.86,421.26 L210.93,421.50 L211.00,421.74 L211.07,421.98 L211.14,422.22 L211.21,422.46 L211.28,422.70 L211.34,422.94 L211.41,423.18 L211.48,423.42 L211.55,423.66 L211.61,423.90 L211.68,424.14 L211.75,424.38 L211.81,424.63 L211.88,424.87 L211.94,425.11 L212.01,425.35 L212.08,425.59 L212.14,425.83 L212.21,426.07 L212.27,426.31 L212.34,426.56 L212.40,426.80 L212.47,427.04 L212.53,427.28 L212.60,427.52 L212.66,427.76 L212.73,428.00 L212.79,428.24 L212.86,428.49 L212.92,428.73 L212.99,428.97 L213.05,429.21 L213.12,429.45 L213.18,429.69 L213.25,429.93 L213.31,430.18 L213.38,430.42 L213.44,430.66 L213.51,430.90 L213.52,430.95M213.52,430.95 L213.57,431.14 L213.64,431.38 L213.70,431.63 L213.76,431.87 L213.83,432.11 L213.89,432.35 L213.96,432.59 L214.02,432.83 L214.08,433.08 L214.15,433.32 L214.21,433.56 L214.28,433.80 L214.34,434.04 L214.40,434.28 L214.47,434.53 L214.53,434.77 L214.59,435.01 L214.66,435.25 L214.72,435.49 L214.78,435.74 L214.85,435.98 L214.91,436.22 L214.97,436.46 L215.04,436.70 L215.10,436.95 L215.16,437.19 L215.23,437.43 L215.29,437.67 L215.35,437.91 L215.41,438.15 L215.48,438.40 L215.54,438.64 L215.60,438.88 L215.67,439.12 L215.73,439.36 L215.79,439.61 L215.86,439.85 L215.92,440.09 L215.98,440.33 L216.04,440.57 L216.11,440.82 L216.17,441.06 L216.23,441.30 L216.29,441.54 L216.36,441.78 L216.42,442.03 L216.48,442.27 L216.54,442.51 L216.61,442.75 L216.67,443.00 L216.68,443.04M216.68,443.04 L216.73,443.24 L216.79,443.48 L216.86,443.72 L216.92,443.96 L216.98,444.21 L217.04,444.45 L217.11,444.69 L217.17,444.93 L217.23,445.17 L217.29,445.42 L217.35,445.66 L217.42,445.90 L217.48,446.14 L217.54,446.38 L217.60,446.63 L217.67,446.87 L217.73,447.11 L217.79,447.35 L217.85,447.60 L217.92,447.84 L217.98,448.08 L218.04,448.32 L218.11,448.56 L218.17,448.80 L218.23,449.05 L218.30,449.29 L218.36,449.53 L218.42,449.77 L218.49,450.01 L218.55,450.26 L218.61,450.50 L218.68,450.74 L218.74,450.98 L218.81,451.22 L218.87,451.46 L218.94,451.71 L219.00,451.95 L219.07,452.19 L219.13,452.43 L219.20,452.67 L219.26,452.91 L219.33,453.15 L219.39,453.40 L219.46,453.64 L219.52,453.88 L219.59,454.12 L219.65,454.36 L219.72,454.60 L219.79,454.84 L219.84,455.04M219.84,455.04 L219.85,455.08 L219.92,455.33 L219.98,455.57 L220.05,455.81 L220.12,456.05 L220.18,456.29 L220.25,456.53 L220.32,456.77 L220.38,457.01 L220.45,457.25 L220.52,457.49 L220.58,457.74 L220.65,457.98 L220.72,458.22 L220.78,458.46 L220.85,458.70 L220.91,458.94 L220.98,459.18 L221.05,459.42 L221.11,459.66 L221.18,459.90 L221.25,460.15 L221.31,460.39 L221.38,460.63 L221.45,460.87 L221.51,461.11 L221.58,461.35 L221.65,461.59 L221.71,461.83 L221.78,462.07 L221.85,462.31 L221.91,462.56 L221.98,462.80 L222.04,463.04 L222.11,463.28 L222.18,463.52 L222.24,463.76 L222.31,464.00 L222.37,464.24 L222.44,464.48 L222.50,464.73 L222.57,464.97 L222.64,465.21 L222.70,465.45 L222.77,465.69 L222.83,465.93 L222.90,466.17 L222.96,466.42 L223.00,466.55M223.00,466.55 L223.03,466.66 L223.09,466.90 L223.16,467.14 L223.22,467.38 L223.29,467.62 L223.36,467.86 L223.42,468.10 L223.49,468.35 L223.55,468.59 L223.62,468.83 L223.68,469.07 L223.75,469.31 L223.81,469.55 L223.88,469.79 L223.94,470.04 L224.01,470.28 L224.07,470.52 L224.14,470.76 L224.20,471.00 L224.27,471.24 L224.33,471.48 L224.39,471.73 L224.46,471.97 L224.52,472.21 L224.59,472.45 L224.65,472.69 L224.72,472.93 L224.78,473.18 L224.85,473.42 L224.91,473.66 L224.97,473.90 L225.04,474.14 L225.10,474.38 L225.16,474.63 L225.23,474.87 L225.29,475.11 L225.36,475.35 L225.42,475.59 L225.48,475.83 L225.55,476.08 L225.61,476.32 L225.67,476.56 L225.74,476.80 L225.80,477.04 L225.86,477.29 L225.92,477.53 L225.99,477.77 L226.05,478.01 L226.11,478.25 L226.16,478.44M226.16,478.44 L226.18,478.50 L226.24,478.74 L226.30,478.98 L226.36,479.22 L226.43,479.46 L226.49,479.71 L226.55,479.95 L226.61,480.19 L226.67,480.43 L226.74,480.68 L226.80,480.92 L226.86,481.16 L226.92,481.40 L226.99,481.64 L227.05,481.89 L227.11,482.13 L227.17,482.37 L227.23,482.61 L227.30,482.85 L227.36,483.10 L227.42,483.34 L227.48,483.58 L227.55,483.82 L227.61,484.06 L227.67,484.31 L227.73,484.55 L227.80,484.79 L227.86,485.03 L227.92,485.27 L227.99,485.52 L228.05,485.76 L228.11,486.00 L228.17,486.24 L228.24,486.48 L228.30,486.73 L228.36,486.97 L228.43,487.21 L228.49,487.45 L228.56,487.69 L228.62,487.94 L228.68,488.18 L228.75,488.42 L228.81,488.66 L228.88,488.90 L228.94,489.14 L229.00,489.39 L229.07,489.63 L229.13,489.87 L229.20,490.11 L229.26,490.35 L229.32,490.57M229.32,490.57 L229.33,490.59 L229.39,490.83 L229.46,491.08 L229.52,491.32 L229.59,491.56 L229.65,491.80 L229.72,492.04 L229.78,492.28 L229.85,492.52 L229.91,492.77 L229.98,493.01 L230.04,493.25 L230.11,493.49 L230.17,493.73 L230.24,493.97 L230.30,494.21 L230.37,494.45 L230.44,494.70 L230.50,494.94 L230.57,495.18 L230.63,495.42 L230.70,495.66 L230.77,495.90 L230.83,496.14 L230.90,496.38 L230.96,496.63 L231.03,496.87 L231.10,497.11 L231.16,497.35 L231.23,497.59 L231.30,497.83 L231.36,498.07 L231.43,498.31 L231.50,498.55 L231.56,498.79 L231.63,499.03 L231.70,499.28 L231.77,499.52 L231.83,499.76 L231.90,500.00 L231.97,500.24 L232.04,500.48 L232.10,500.72 L232.17,500.96 L232.24,501.20 L232.31,501.44 L232.38,501.68 L232.45,501.92 L232.48,502.04M232.48,502.04 L232.51,502.16 L232.58,502.40 L232.65,502.64 L232.72,502.88 L232.79,503.12 L232.86,503.36 L232.93,503.61 L232.99,503.85 L233.06,504.09 L233.13,504.33 L233.20,504.57 L233.27,504.81 L233.34,505.05 L233.41,505.29 L233.48,505.53 L233.55,505.77 L233.62,506.01 L233.68,506.25 L233.75,506.49 L233.82,506.73 L233.89,506.97 L233.96,507.21 L234.03,507.45 L234.10,507.69 L234.17,507.93 L234.24,508.17 L234.30,508.41 L234.37,508.65 L234.44,508.89 L234.51,509.13 L234.58,509.37 L234.65,509.61 L234.71,509.85 L234.78,510.10 L234.85,510.34 L234.92,510.58 L234.99,510.82 L235.05,511.06 L235.12,511.30 L235.19,511.54 L235.26,511.78 L235.32,512.02 L235.39,512.26 L235.46,512.50 L235.52,512.74 L235.59,512.98 L235.64,513.17M235.64,513.17 L235.66,513.23 L235.72,513.47 L235.79,513.71 L235.86,513.95 L235.92,514.19 L235.99,514.43 L236.05,514.67 L236.12,514.91 L236.19,515.15 L236.25,515.40 L236.32,515.64 L236.38,515.88 L236.45,516.12 L236.52,516.36 L236.58,516.60 L236.65,516.84 L236.71,517.08 L236.78,517.33 L236.84,517.57 L236.91,517.81 L236.98,518.05 L237.04,518.29 L237.11,518.53 L237.17,518.77 L237.24,519.01 L237.31,519.25 L237.37,519.50 L237.44,519.74 L237.50,519.98 L237.57,520.22 L237.64,520.46 L237.70,520.70 L237.77,520.94 L237.84,521.18 L237.90,521.42 L237.97,521.66 L238.04,521.91 L238.10,522.15 L238.17,522.39 L238.24,522.63 L238.31,522.87 L238.37,523.11 L238.44,523.35 L238.51,523.59 L238.57,523.83 L238.64,524.07 L238.71,524.31 L238.78,524.55 L238.80,524.64M238.80,524.64 L238.84,524.80 L238.91,525.04 L238.98,525.28 L239.05,525.52 L239.12,525.76 L239.18,526.00 L239.25,526.24 L239.32,526.48 L239.39,526.72 L239.46,526.96 L239.53,527.20 L239.59,527.44 L239.66,527.68 L239.73,527.92 L239.80,528.16 L239.87,528.40 L239.94,528.64 L240.01,528.88 L240.08,529.12 L240.15,529.36 L240.22,529.60 L240.29,529.84 L240.36,530.08 L240.43,530.32 L240.51,530.56 L240.58,530.80 L240.65,531.04 L240.72,531.28 L240.80,531.52 L240.87,531.76 L240.95,531.99 L241.02,532.23 L241.10,532.47 L241.17,532.71 L241.25,532.95 L241.32,533.19 L241.40,533.42 L241.48,533.66 L241.55,533.90 L241.63,534.14 L241.71,534.37 L241.79,534.61 L241.87,534.85 L241.95,535.09 L241.96,535.12M241.96,535.12 L242.03,535.32 L242.11,535.56 L242.19,535.80 L242.27,536.03 L242.35,536.27 L242.43,536.50 L242.52,536.74 L242.60,536.98 L242.68,537.21 L242.76,537.45 L242.85,537.68 L242.93,537.92 L243.01,538.16 L243.10,538.39 L243.18,538.63 L243.26,538.86 L243.35,539.10 L243.43,539.33 L243.52,539.57 L243.60,539.81 L243.68,540.04 L243.77,540.28 L243.85,540.51 L243.93,540.75 L244.01,540.98 L244.10,541.22 L244.18,541.46 L244.26,541.69 L244.34,541.93 L244.43,542.16 L244.51,542.40 L244.59,542.64 L244.67,542.87 L244.75,543.11 L244.83,543.35 L244.91,543.58 L244.99,543.82 L245.07,544.06 L245.12,544.20M245.12,544.20 L245.15,544.29 L245.23,544.53 L245.31,544.77 L245.39,545.01 L245.47,545.24 L245.54,545.48 L245.62,545.72 L245.70,545.96 L245.78,546.19 L245.85,546.43 L245.93,546.67 L246.01,546.91 L246.09,547.14 L246.16,547.38 L246.24,547.62 L246.32,547.86 L246.40,548.10 L246.47,548.33 L246.55,548.57 L246.63,548.81 L246.70,549.05 L246.78,549.28 L246.86,549.52 L246.94,549.76 L247.01,550.00 L247.09,550.24 L247.17,550.47 L247.25,550.71 L247.33,550.95 L247.40,551.19 L247.48,551.42 L247.56,551.66 L247.64,551.90 L247.72,552.13 L247.80,552.37 L247.88,552.61 L247.96,552.85 L248.04,553.08 L248.12,553.32 L248.20,553.56 L248.28,553.79 L248.28,553.80M248.28,553.80 L248.36,554.03 L248.44,554.27 L248.52,554.50 L248.60,554.74 L248.68,554.98 L248.76,555.21 L248.84,555.45 L248.92,555.69 L249.01,555.92 L249.09,556.16 L249.17,556.39 L249.25,556.63 L249.33,556.87 L249.42,557.10 L249.50,557.34 L249.58,557.57 L249.67,557.81 L249.75,558.05 L249.84,558.28 L249.92,558.52 L250.01,558.75 L250.09,558.99 L250.18,559.22 L250.26,559.45 L250.35,559.69 L250.44,559.92 L250.53,560.16 L250.61,560.39 L250.70,560.62 L250.79,560.86 L250.88,561.09 L250.97,561.32 L251.07,561.56 L251.16,561.79 L251.25,562.02 L251.35,562.25 L251.44,562.48M251.44,562.48 L251.44,562.48 L251.54,562.71 L251.63,562.94 L251.73,563.17 L251.83,563.40 L251.92,563.63 L252.02,563.86 L252.12,564.09 L252.22,564.32 L252.32,564.55 L252.43,564.78 L252.53,565.01 L252.63,565.23 L252.74,565.46 L252.84,565.69 L252.94,565.92 L253.05,566.14 L253.16,566.37 L253.26,566.60 L253.37,566.82 L253.48,567.05 L253.58,567.27 L253.69,567.50 L253.80,567.72 L253.91,567.95 L254.02,568.17 L254.12,568.40 L254.23,568.63 L254.34,568.85 L254.45,569.08 L254.56,569.30 L254.60,569.38M254.60,569.38 L254.67,569.53 L254.78,569.75 L254.89,569.98 L255.00,570.20 L255.11,570.42 L255.21,570.65 L255.32,570.87 L255.43,571.10 L255.54,571.32 L255.65,571.55 L255.76,571.77 L255.87,572.00 L255.98,572.22 L256.09,572.45 L256.21,572.67 L256.32,572.89 L256.43,573.12 L256.54,573.34 L256.65,573.56 L256.76,573.79 L256.88,574.01 L256.99,574.23 L257.11,574.46 L257.22,574.68 L257.34,574.90 L257.45,575.12 L257.57,575.34 L257.69,575.56 L257.76,575.70M257.76,575.70 L257.80,575.78 L257.92,576.00 L258.04,576.22 L258.16,576.44 L258.28,576.66 L258.41,576.88 L258.53,577.09 L258.65,577.31 L258.78,577.53 L258.90,577.74 L259.03,577.96 L259.15,578.18 L259.28,578.39 L259.41,578.60 L259.54,578.82 L259.67,579.03 L259.80,579.25 L259.93,579.46 L260.06,579.67 L260.19,579.88 L260.32,580.10 L260.46,580.31 L260.59,580.52 L260.72,580.73 L260.86,580.94 L260.92,581.04M260.92,581.04 L260.99,581.15 L261.12,581.37 L261.26,581.58 L261.39,581.79 L261.53,582.00 L261.66,582.21 L261.80,582.42 L261.94,582.62 L262.07,582.83 L262.21,583.04 L262.35,583.25 L262.49,583.46 L262.63,583.66 L262.77,583.87 L262.91,584.07 L263.06,584.27 L263.20,584.47 L263.35,584.67 L263.50,584.87 L263.65,585.07 L263.81,585.26 L263.96,585.45 L264.08,585.59M264.08,585.59 L264.12,585.64 L264.28,585.83 L264.45,586.02 L264.61,586.20 L264.78,586.38 L264.95,586.56 L265.13,586.74 L265.30,586.91 L265.48,587.08 L265.66,587.25 L265.84,587.42 L266.03,587.59 L266.21,587.75 L266.40,587.91 L266.59,588.07 L266.79,588.23 L266.98,588.38 L267.18,588.53 L267.24,588.58M267.24,588.58 L267.37,588.68 L267.57,588.83 L267.77,588.98 L267.97,589.13 L268.18,589.27 L268.38,589.41 L268.59,589.55 L268.79,589.69 L269.00,589.83 L269.21,589.96 L269.42,590.09 L269.63,590.22 L269.85,590.34 L270.06,590.47 L270.28,590.59 L270.40,590.65M270.40,590.65 L270.50,590.70 L270.71,590.81 L270.93,590.92 L271.16,591.02 L271.38,591.12 L271.61,591.22 L271.83,591.31 L272.06,591.39 L272.29,591.47 L272.52,591.54 L272.75,591.61 L272.99,591.67 L273.22,591.72 L273.46,591.77 L273.56,591.79M273.56,591.79 L273.69,591.81 L273.93,591.85 L274.17,591.88 L274.41,591.90 L274.65,591.91 L274.89,591.92 L275.13,591.92 L275.37,591.91 L275.61,591.90 L275.84,591.88 L276.08,591.85 L276.32,591.82 L276.56,591.78 L276.72,591.75M276.72,591.75 L276.80,591.73 L277.03,591.68 L277.27,591.62 L277.50,591.55 L277.73,591.48 L277.96,591.41 L278.19,591.32 L278.42,591.23 L278.64,591.14 L278.86,591.04 L279.08,590.94 L279.30,590.83 L279.52,590.72 L279.73,590.60 L279.88,590.51M279.88,590.51 L279.94,590.47 L280.15,590.35 L280.35,590.21 L280.56,590.08 L280.76,589.94 L280.96,589.79 L281.15,589.64 L281.35,589.49 L281.54,589.34 L281.73,589.18 L281.92,589.02 L282.10,588.85 L282.28,588.69 L282.46,588.52 L282.64,588.35 L282.82,588.17 L283.00,587.99 L283.04,587.95M283.04,587.95 L283.17,587.82 L283.34,587.64 L283.51,587.45 L283.68,587.27 L283.84,587.08 L284.01,586.90 L284.17,586.71 L284.33,586.52 L284.49,586.33 L284.65,586.13 L284.80,585.94 L284.96,585.74 L285.11,585.55 L285.26,585.35 L285.41,585.15 L285.56,584.95 L285.70,584.75 L285.85,584.55 L285.99,584.34 L286.13,584.14 L286.20,584.04M286.20,584.04 L286.27,583.93 L286.41,583.72 L286.55,583.51 L286.68,583.30 L286.81,583.09 L286.95,582.88 L287.08,582.67 L287.20,582.45 L287.33,582.24 L287.46,582.02 L287.58,581.81 L287.70,581.59 L287.82,581.37 L287.94,581.15 L288.06,580.93 L288.18,580.71 L288.30,580.49 L288.41,580.27 L288.53,580.05 L288.64,579.83 L288.76,579.61 L288.87,579.38 L288.99,579.16 L289.10,578.94 L289.21,578.72 L289.32,578.49 L289.36,578.42M289.36,578.42 L289.44,578.27 L289.55,578.05 L289.66,577.82 L289.78,577.60 L289.89,577.38 L290.00,577.15 L290.11,576.93 L290.23,576.71 L290.34,576.49 L290.45,576.26 L290.57,576.04 L290.68,575.82 L290.79,575.59 L290.91,575.37 L291.02,575.15 L291.13,574.93 L291.24,574.70 L291.36,574.48 L291.47,574.25 L291.58,574.03 L291.69,573.81 L291.80,573.58 L291.91,573.36 L292.01,573.13 L292.12,572.91 L292.23,572.68 L292.33,572.45 L292.44,572.23 L292.52,572.04M292.52,572.04 L292.54,572.00 L292.64,571.77 L292.74,571.54 L292.84,571.31 L292.94,571.08 L293.04,570.85 L293.13,570.62 L293.23,570.39 L293.32,570.16 L293.41,569.93 L293.50,569.70 L293.59,569.46 L293.68,569.23 L293.77,569.00 L293.86,568.76 L293.94,568.53 L294.03,568.29 L294.11,568.06 L294.20,567.82 L294.28,567.59 L294.36,567.35 L294.44,567.11 L294.53,566.88 L294.61,566.64 L294.69,566.41 L294.77,566.17 L294.85,565.93 L294.93,565.70 L295.01,565.46 L295.09,565.22 L295.17,564.99 L295.26,564.75 L295.34,564.51 L295.42,564.28 L295.50,564.04 L295.58,563.80 L295.66,563.57 L295.68,563.52M295.68,563.52 L295.75,563.33 L295.83,563.10 L295.91,562.86 L296.00,562.62 L296.08,562.39 L296.16,562.15 L296.25,561.92 L296.33,561.68 L296.42,561.45 L296.50,561.21 L296.59,560.98 L296.67,560.74 L296.76,560.51 L296.84,560.27 L296.93,560.04 L297.01,559.80 L297.10,559.57 L297.19,559.33 L297.27,559.10 L297.36,558.86 L297.44,558.63 L297.53,558.39 L297.61,558.16 L297.70,557.92 L297.78,557.69 L297.86,557.45 L297.95,557.22 L298.03,556.98 L298.11,556.75 L298.20,556.51 L298.28,556.27 L298.36,556.04 L298.44,555.80 L298.52,555.56 L298.61,555.33 L298.69,555.09 L298.77,554.85 L298.84,554.64M298.84,554.64 L298.85,554.62 L298.93,554.38 L299.01,554.14 L299.08,553.91 L299.16,553.67 L299.24,553.43 L299.32,553.19 L299.40,552.96 L299.48,552.72 L299.55,552.48 L299.63,552.24 L299.71,552.01 L299.79,551.77 L299.86,551.53 L299.94,551.29 L300.01,551.05 L300.09,550.82 L300.16,550.58 L300.24,550.34 L300.31,550.10 L300.39,549.86 L300.46,549.62 L300.54,549.38 L300.61,549.15 L300.68,548.91 L300.75,548.67 L300.83,548.43 L300.90,548.19 L300.97,547.95 L301.04,547.71 L301.11,547.47 L301.18,547.23 L301.25,546.99 L301.32,546.75 L301.39,546.51 L301.46,546.27 L301.52,546.03 L301.59,545.79 L301.66,545.54 L301.72,545.30 L301.79,545.06 L301.85,544.82 L301.92,544.58 L301.98,544.34 L302.00,544.26M302.00,544.26 L302.04,544.10 L302.10,543.85 L302.17,543.61 L302.23,543.37 L302.29,543.13 L302.35,542.88 L302.41,542.64 L302.47,542.40 L302.53,542.16 L302.59,541.91 L302.65,541.67 L302.71,541.43 L302.76,541.18 L302.82,540.94 L302.88,540.70 L302.94,540.45 L303.00,540.21 L303.05,539.97 L303.11,539.72 L303.17,539.48 L303.22,539.24 L303.28,538.99 L303.34,538.75 L303.40,538.51 L303.45,538.26 L303.51,538.02 L303.57,537.78 L303.63,537.53 L303.69,537.29 L303.74,537.05 L303.80,536.81 L303.86,536.56 L303.92,536.32 L303.98,536.08 L304.04,535.83 L304.10,535.59 L304.16,535.35 L304.22,535.11 L304.29,534.86 L304.35,534.62 L304.41,534.38 L304.47,534.14 L304.53,533.90 L304.60,533.65 L304.66,533.41 L304.73,533.17 L304.79,532.93 L304.85,532.69 L304.92,532.45 L304.98,532.20 L305.05,531.96 L305.11,531.72 L305.16,531.55M305.16,531.55 L305.18,531.48 L305.24,531.24 L305.31,531.00 L305.37,530.76 L305.44,530.52 L305.50,530.27 L305.57,530.03 L305.64,529.79 L305.70,529.55 L305.77,529.31 L305.83,529.07 L305.90,528.83 L305.96,528.58 L306.03,528.34 L306.09,528.10 L306.16,527.86 L306.22,527.62 L306.28,527.38 L306.35,527.14 L306.41,526.89 L306.48,526.65 L306.54,526.41 L306.60,526.17 L306.67,525.93 L306.73,525.68 L306.79,525.44 L306.85,525.20 L306.92,524.96 L306.98,524.72 L307.04,524.47 L307.10,524.23 L307.16,523.99 L307.22,523.75 L307.28,523.50 L307.33,523.26 L307.39,523.02 L307.45,522.77 L307.51,522.53 L307.56,522.29 L307.62,522.04 L307.67,521.80 L307.73,521.55 L307.78,521.31 L307.83,521.07 L307.89,520.82 L307.94,520.58 L307.99,520.33 L308.04,520.09 L308.10,519.84 L308.15,519.60 L308.20,519.36 L308.25,519.11 L308.30,518.87 L308.32,518.78M308.32,518.78 L308.35,518.62 L308.41,518.38 L308.46,518.13 L308.51,517.89 L308.57,517.64 L308.62,517.40 L308.67,517.16 L308.73,516.91 L308.79,516.67 L308.84,516.43 L308.90,516.18 L308.96,515.94 L309.02,515.70 L309.08,515.46 L309.14,515.21 L309.20,514.97 L309.27,514.73 L309.33,514.49 L309.39,514.25 L309.46,514.01 L309.53,513.77 L309.59,513.52 L309.66,513.28 L309.73,513.04 L309.80,512.80 L309.86,512.56 L309.93,512.32 L310.00,512.08 L310.07,511.84 L310.14,511.60 L310.20,511.36 L310.27,511.12 L310.34,510.88 L310.40,510.64 L310.47,510.40 L310.53,510.16 L310.60,509.91 L310.66,509.67 L310.72,509.43 L310.78,509.19 L310.84,508.95 L310.90,508.70 L310.96,508.46 L311.02,508.22 L311.07,507.97 L311.13,507.73 L311.18,507.49 L311.24,507.24 L311.29,507.00 L311.34,506.75 L311.39,506.51 L311.44,506.26 L311.48,506.06M311.48,506.06 L311.49,506.02 L311.54,505.77 L311.58,505.53 L311.63,505.28 L311.68,505.04 L311.72,504.79 L311.77,504.55 L311.81,504.30 L311.86,504.05 L311.90,503.81 L311.95,503.56 L311.99,503.32 L312.04,503.07 L312.08,502.82 L312.13,502.58 L312.17,502.33 L312.22,502.09 L312.26,501.84 L312.31,501.59 L312.35,501.35 L312.40,501.10 L312.45,500.86 L312.49,500.61 L312.54,500.37 L312.59,500.12 L312.63,499.88 L312.68,499.63 L312.73,499.38 L312.78,499.14 L312.83,498.89 L312.87,498.65 L312.92,498.40 L312.97,498.16 L313.02,497.91 L313.07,497.67 L313.12,497.42 L313.17,497.18 L313.22,496.93 L313.27,496.69 L313.32,496.44 L313.37,496.20 L313.42,495.95 L313.47,495.71 L313.52,495.46 L313.58,495.22 L313.63,494.97 L313.68,494.73 L313.73,494.49 L313.78,494.24 L313.84,494.00 L313.89,493.75 L313.94,493.51 L313.99,493.26 L314.05,493.02 L314.10,492.77 L314.15,492.53 L314.20,492.29 L314.26,492.04 L314.31,491.80 L314.36,491.55 L314.41,491.31 L314.47,491.06 L314.52,490.82 L314.57,490.57 L314.62,490.33 L314.64,490.24M314.64,490.24 L314.67,490.09 L314.72,489.84 L314.77,489.60 L314.82,489.35 L314.87,489.11 L314.92,488.86 L314.97,488.62 L315.01,488.37 L315.06,488.12 L315.11,487.88 L315.15,487.63 L315.19,487.39 L315.24,487.14 L315.28,486.89 L315.32,486.65 L315.36,486.40 L315.40,486.15 L315.44,485.91 L315.47,485.66 L315.51,485.41 L315.55,485.17 L315.58,484.92 L315.61,484.67 L315.65,484.42 L315.68,484.18 L315.71,483.93 L315.74,483.68 L315.77,483.43 L315.81,483.18 L315.84,482.94 L315.87,482.69 L315.90,482.44 L315.93,482.19 L315.96,481.94 L315.98,481.69 L316.01,481.45 L316.04,481.20 L316.07,480.95 L316.10,480.70 L316.13,480.45 L316.16,480.21 L316.20,479.96 L316.23,479.71 L316.26,479.46 L316.29,479.21 L316.32,478.97 L316.35,478.72 L316.39,478.47 L316.42,478.22 L316.45,477.97 L316.49,477.73 L316.52,477.48 L316.56,477.23 L316.59,476.98 L316.62,476.74 L316.66,476.49 L316.70,476.24 L316.73,475.99 L316.77,475.75 L316.80,475.50 L316.84,475.25 L316.88,475.00 L316.91,474.76 L316.95,474.51 L316.99,474.26 L317.02,474.02 L317.06,473.77 L317.10,473.52 L317.14,473.27 L317.18,473.03 L317.21,472.78 L317.25,472.53 L317.29,472.29 L317.33,472.04 L317.36,471.79 L317.40,471.54 L317.44,471.30 L317.48,471.05 L317.52,470.80 L317.56,470.56 L317.59,470.31 L317.63,470.06 L317.67,469.81 L317.71,469.57 L317.75,469.32 L317.79,469.07 L317.80,469.00M317.80,469.00 L317.83,468.83 L317.87,468.58 L317.90,468.33 L317.94,468.09 L317.98,467.84 L318.02,467.59 L318.06,467.34 L318.10,467.10 L318.14,466.85 L318.18,466.60 L318.22,466.36 L318.26,466.11 L318.29,465.86 L318.33,465.62 L318.37,465.37 L318.41,465.12 L318.45,464.88 L318.49,464.63 L318.53,464.38 L318.57,464.13 L318.61,463.89 L318.65,463.64 L318.69,463.39 L318.73,463.15 L318.77,462.90 L318.81,462.65 L318.85,462.41 L318.89,462.16 L318.93,461.91 L318.97,461.67 L319.00,461.42 L319.04,461.17 L319.08,460.93 L319.12,460.68 L319.16,460.43 L319.20,460.19 L319.24,459.94 L319.28,459.69 L319.32,459.44 L319.36,459.20 L319.40,458.95 L319.45,458.70 L319.49,458.46 L319.53,458.21 L319.57,457.96 L319.61,457.72 L319.65,457.47 L319.69,457.22 L319.73,456.98 L319.77,456.73 L319.81,456.48 L319.85,456.24 L319.89,455.99 L319.94,455.74 L319.98,455.50 L320.02,455.25 L320.06,455.01 L320.10,454.76 L320.15,454.51 L320.19,454.27 L320.23,454.02 L320.27,453.77 L320.32,453.53 L320.36,453.28 L320.40,453.03 L320.45,452.79 L320.49,452.54 L320.53,452.30 L320.58,452.05 L320.62,451.80 L320.67,451.56 L320.71,451.31 L320.76,451.07 L320.80,450.82 L320.85,450.57 L320.89,450.33 L320.94,450.08 L320.96,449.98M320.96,449.98 L320.99,449.84 L321.03,449.59 L321.08,449.35 L321.13,449.10 L321.17,448.85 L321.22,448.61 L321.27,448.36 L321.32,448.12 L321.36,447.87 L321.41,447.63 L321.46,447.38 L321.51,447.14 L321.56,446.89 L321.61,446.65 L321.66,446.40 L321.70,446.16 L321.75,445.91 L321.80,445.67 L321.85,445.42 L321.90,445.18 L321.95,444.93 L322.00,444.69 L322.05,444.44 L322.10,444.20 L322.15,443.95 L322.20,443.71 L322.25,443.46 L322.30,443.22 L322.35,442.97 L322.40,442.73 L322.45,442.48 L322.50,442.24 L322.55,441.99 L322.60,441.75 L322.65,441.50 L322.70,441.26 L322.74,441.01 L322.79,440.77 L322.84,440.52 L322.89,440.27 L322.94,440.03 L322.99,439.78 L323.03,439.54 L323.08,439.29 L323.13,439.05 L323.18,438.80 L323.22,438.56 L323.27,438.31 L323.32,438.07 L323.36,437.82 L323.41,437.57 L323.46,437.33 L323.50,437.08 L323.55,436.84 L323.59,436.59 L323.64,436.35 L323.68,436.10 L323.73,435.85 L323.77,435.61 L323.82,435.36 L323.86,435.12 L323.91,434.87 L323.95,434.62 L324.00,434.38 L324.04,434.13 L324.08,433.89 L324.12,433.68M324.12,433.68 L324.13,433.64 L324.17,433.39 L324.22,433.15 L324.26,432.90 L324.30,432.65 L324.35,432.41 L324.39,432.16 L324.43,431.92 L324.48,431.67 L324.52,431.42 L324.56,431.18 L324.60,430.93 L324.65,430.68 L324.69,430.44 L324.73,430.19 L324.77,429.94 L324.81,429.70 L324.86,429.45 L324.90,429.20 L324.94,428.96 L324.98,428.71 L325.02,428.47 L325.06,428.22 L325.10,427.97 L325.14,427.73 L325.18,427.48 L325.22,427.23 L325.26,426.98 L325.30,426.74 L325.34,426.49 L325.38,426.24 L325.42,426.00 L325.46,425.75 L325.50,425.50 L325.54,425.26 L325.58,425.01 L325.62,424.76 L325.65,424.52 L325.69,424.27 L325.73,424.02 L325.77,423.77 L325.80,423.53 L325.84,423.28 L325.88,423.03 L325.92,422.79 L325.95,422.54 L325.99,422.29 L326.02,422.04 L326.06,421.80 L326.09,421.55 L326.13,421.30 L326.17,421.05 L326.20,420.81 L326.23,420.56 L326.27,420.31 L326.30,420.06 L326.34,419.81 L326.37,419.57 L326.40,419.32 L326.44,419.07 L326.47,418.82 L326.50,418.58 L326.53,418.33 L326.57,418.08 L326.60,417.83 L326.63,417.58 L326.66,417.34 L326.69,417.09 L326.72,416.84 L326.75,416.59 L326.78,416.34 L326.81,416.10 L326.85,415.85 L326.88,415.60 L326.91,415.35 L326.94,415.10 L326.97,414.85 L327.00,414.61 L327.02,414.36 L327.05,414.11 L327.08,413.86 L327.11,413.61 L327.14,413.36 L327.17,413.12 L327.20,412.87 L327.23,412.62 L327.26,412.37 L327.28,412.19M327.28,412.19 L327.29,412.12 L327.32,411.87 L327.35,411.63 L327.37,411.38 L327.40,411.13 L327.43,410.88 L327.46,410.63 L327.49,410.38 L327.52,410.14 L327.55,409.89 L327.58,409.64 L327.61,409.39 L327.64,409.14 L327.67,408.89 L327.70,408.65 L327.72,408.40 L327.75,408.15 L327.78,407.90 L327.81,407.65 L327.84,407.41 L327.87,407.16 L327.90,406.91 L327.93,406.66 L327.96,406.41 L327.99,406.16 L328.03,405.92 L328.06,405.67 L328.09,405.42 L328.12,405.17 L328.15,404.92 L328.18,404.68 L328.21,404.43 L328.24,404.18 L328.28,403.93 L328.31,403.68 L328.34,403.44 L328.37,403.19 L328.41,402.94 L328.44,402.69 L328.47,402.44 L328.51,402.20 L328.54,401.95 L328.57,401.70 L328.61,401.45 L328.64,401.21 L328.68,400.96 L328.71,400.71 L328.75,400.46 L328.78,400.22 L328.82,399.97 L328.85,399.72 L328.89,399.47 L328.93,399.23 L328.96,398.98 L329.00,398.73 L329.04,398.48 L329.07,398.24 L329.11,397.99 L329.15,397.74 L329.19,397.50 L329.23,397.25 L329.26,397.00 L329.30,396.76 L329.34,396.51 L329.38,396.26 L329.42,396.01 L329.46,395.77 L329.50,395.52 L329.54,395.27 L329.58,395.03 L329.62,394.78 L329.66,394.53 L329.70,394.29 L329.74,394.04 L329.78,393.79 L329.82,393.55 L329.86,393.30 L329.90,393.05 L329.94,392.81 L329.98,392.56 L330.02,392.31 L330.06,392.07 L330.10,391.82 L330.15,391.57 L330.19,391.33 L330.23,391.08 L330.27,390.83 L330.31,390.59 L330.35,390.34 L330.40,390.09 L330.44,389.85 L330.44,389.84M330.44,389.84 L330.48,389.60 L330.52,389.35 L330.56,389.11 L330.61,388.86 L330.65,388.62 L330.69,388.37 L330.73,388.12 L330.78,387.88 L330.82,387.63 L330.86,387.38 L330.90,387.14 L330.95,386.89 L330.99,386.64 L331.03,386.40 L331.07,386.15 L331.12,385.91 L331.16,385.66 L331.20,385.41 L331.24,385.17 L331.29,384.92 L331.33,384.67 L331.37,384.43 L331.41,384.18 L331.46,383.93 L331.50,383.69 L331.54,383.44 L331.58,383.20 L331.63,382.95 L331.67,382.70 L331.71,382.46 L331.75,382.21 L331.80,381.96 L331.84,381.72 L331.88,381.47 L331.92,381.22 L331.96,380.98 L332.01,380.73 L332.05,380.48 L332.09,380.24 L332.13,379.99 L332.17,379.75 L332.22,379.50 L332.26,379.25 L332.30,379.01 L332.34,378.76 L332.39,378.51 L332.43,378.27 L332.47,378.02 L332.51,377.77 L332.56,377.53 L332.60,377.28 L332.64,377.03 L332.68,376.79 L332.73,376.54 L332.77,376.30 L332.81,376.05 L332.86,375.80 L332.90,375.56 L332.94,375.31 L332.99,375.06 L333.03,374.82 L333.07,374.57 L333.12,374.33 L333.16,374.08 L333.20,373.83 L333.25,373.59 L333.29,373.34 L333.33,373.10 L333.38,372.85 L333.42,372.60 L333.46,372.36 L333.51,372.11 L333.55,371.86 L333.59,371.62 L333.60,371.58M333.60,371.58 L333.64,371.37 L333.68,371.13 L333.72,370.88 L333.76,370.63 L333.81,370.39 L333.85,370.14 L333.89,369.89 L333.93,369.65 L333.97,369.40 L334.01,369.15 L334.05,368.91 L334.09,368.66 L334.13,368.41 L334.17,368.17 L334.21,367.92 L334.25,367.67 L334.29,367.43 L334.33,367.18 L334.37,366.93 L334.40,366.68 L334.44,366.44 L334.48,366.19 L334.51,365.94 L334.55,365.69 L334.59,365.45 L334.62,365.20 L334.66,364.95 L334.69,364.70 L334.73,364.46 L334.76,364.21 L334.79,363.96 L334.83,363.71 L334.86,363.47 L334.89,363.22 L334.93,362.97 L334.96,362.72 L334.99,362.47 L335.02,362.23 L335.05,361.98 L335.08,361.73 L335.11,361.48 L335.14,361.23 L335.18,360.99 L335.20,360.74 L335.23,360.49 L335.26,360.24 L335.29,359.99 L335.32,359.74 L335.35,359.50 L335.38,359.25 L335.41,359.00 L335.43,358.75 L335.46,358.50 L335.49,358.25 L335.52,358.01 L335.54,357.76 L335.57,357.51 L335.60,357.26 L335.63,357.01 L335.65,356.76 L335.68,356.51 L335.71,356.27 L335.73,356.02 L335.76,355.77 L335.78,355.52 L335.81,355.27 L335.84,355.02 L335.86,354.77 L335.89,354.53 L335.91,354.28 L335.94,354.03 L335.97,353.78 L335.99,353.53 L336.02,353.28 L336.04,353.03 L336.07,352.78 L336.09,352.54 L336.12,352.29 L336.14,352.04 L336.17,351.79 L336.20,351.54 L336.22,351.29 L336.25,351.04 L336.27,350.79 L336.30,350.55 L336.32,350.30 L336.35,350.05 L336.38,349.80 L336.40,349.55 L336.43,349.30 L336.45,349.05 L336.48,348.81 L336.50,348.56 L336.53,348.31 L336.56,348.06 L336.58,347.81 L336.61,347.56 L336.64,347.31 L336.66,347.06 L336.69,346.82 L336.71,346.57 L336.74,346.32 L336.76,346.15M336.76,346.15 L336.77,346.07 L336.80,345.82 L336.82,345.57 L336.85,345.32 L336.88,345.08 L336.90,344.83 L336.93,344.58 L336.96,344.33 L336.99,344.08 L337.02,343.83 L337.04,343.59 L337.07,343.34 L337.10,343.09 L337.13,342.84 L337.16,342.59 L337.19,342.34 L337.22,342.10 L337.25,341.85 L337.28,341.60 L337.31,341.35 L337.34,341.10 L337.37,340.85 L337.40,340.61 L337.43,340.36 L337.46,340.11 L337.49,339.86 L337.52,339.61 L337.55,339.37 L337.59,339.12 L337.62,338.87 L337.65,338.62 L337.68,338.37 L337.71,338.13 L337.75,337.88 L337.78,337.63 L337.81,337.38 L337.85,337.14 L337.88,336.89 L337.91,336.64 L337.95,336.39 L337.98,336.14 L338.02,335.90 L338.05,335.65 L338.08,335.40 L338.12,335.15 L338.15,334.91 L338.19,334.66 L338.22,334.41 L338.26,334.16 L338.29,333.92 L338.33,333.67 L338.36,333.42 L338.40,333.17 L338.44,332.93 L338.47,332.68 L338.51,332.43 L338.54,332.18 L338.58,331.94 L338.62,331.69 L338.65,331.44 L338.69,331.19 L338.72,330.95 L338.76,330.70 L338.80,330.45 L338.83,330.20 L338.87,329.96 L338.91,329.71 L338.94,329.46 L338.98,329.22 L339.02,328.97 L339.05,328.72 L339.09,328.47 L339.13,328.23 L339.17,327.98 L339.20,327.73 L339.24,327.48 L339.28,327.24 L339.31,326.99 L339.35,326.74 L339.39,326.50 L339.43,326.25 L339.46,326.00 L339.50,325.75 L339.54,325.51 L339.57,325.26 L339.61,325.01 L339.65,324.77 L339.69,324.52 L339.72,324.27 L339.76,324.02 L339.80,323.78 L339.83,323.53 L339.87,323.28 L339.91,323.03 L339.92,322.95M339.92,322.95 L339.94,322.79 L339.98,322.54 L340.02,322.29 L340.05,322.05 L340.09,321.80 L340.13,321.55 L340.16,321.30 L340.20,321.06 L340.24,320.81 L340.27,320.56 L340.31,320.31 L340.34,320.07 L340.38,319.82 L340.42,319.57 L340.45,319.32 L340.49,319.08 L340.52,318.83 L340.56,318.58 L340.59,318.33 L340.63,318.09 L340.66,317.84 L340.70,317.59 L340.73,317.34 L340.77,317.10 L340.80,316.85 L340.84,316.60 L340.87,316.35 L340.91,316.11 L340.94,315.86 L340.98,315.61 L341.01,315.36 L341.05,315.12 L341.08,314.87 L341.11,314.62 L341.15,314.37 L341.18,314.12 L341.22,313.88 L341.25,313.63 L341.28,313.38 L341.32,313.13 L341.35,312.89 L341.38,312.64 L341.42,312.39 L341.45,312.14 L341.48,311.89 L341.52,311.65 L341.55,311.40 L341.58,311.15 L341.62,310.90 L341.65,310.66 L341.68,310.41 L341.72,310.16 L341.75,309.91 L341.78,309.66 L341.82,309.42 L341.85,309.17 L341.88,308.92 L341.92,308.67 L341.95,308.43 L341.98,308.18 L342.01,307.93 L342.05,307.68 L342.08,307.43 L342.11,307.19 L342.15,306.94 L342.18,306.69 L342.21,306.44 L342.24,306.19 L342.28,305.95 L342.31,305.70 L342.34,305.45 L342.37,305.20 L342.41,304.96 L342.44,304.71 L342.47,304.46 L342.50,304.21 L342.54,303.96 L342.57,303.72 L342.60,303.47 L342.63,303.22 L342.66,302.97 L342.70,302.72 L342.73,302.48 L342.76,302.23 L342.79,301.98 L342.83,301.73 L342.86,301.48 L342.89,301.24 L342.92,300.99 L342.95,300.74 L342.99,300.49 L343.02,300.24 L343.05,300.00 L343.08,299.77M343.08,299.77 L343.08,299.75 L343.12,299.50 L343.15,299.25 L343.18,299.00 L343.21,298.76 L343.24,298.51 L343.27,298.26 L343.31,298.01 L343.34,297.76 L343.37,297.52 L343.40,297.27 L343.43,297.02 L343.47,296.77 L343.50,296.53 L343.53,296.28 L343.56,296.03 L343.59,295.78 L343.62,295.53 L343.66,295.29 L343.69,295.04 L343.72,294.79 L343.75,294.54 L343.78,294.29 L343.81,294.05 L343.85,293.80 L343.88,293.55 L343.91,293.30 L343.94,293.05 L343.97,292.80 L344.00,292.56 L344.03,292.31 L344.07,292.06 L344.10,291.81 L344.13,291.56 L344.16,291.32 L344.19,291.07 L344.22,290.82 L344.25,290.57 L344.28,290.32 L344.31,290.08 L344.34,289.83 L344.37,289.58 L344.40,289.33 L344.43,289.08 L344.46,288.84 L344.49,288.59 L344.52,288.34 L344.56,288.09 L344.59,287.84 L344.61,287.59 L344.64,287.35 L344.67,287.10 L344.70,286.85 L344.73,286.60 L344.76,286.35 L344.79,286.10 L344.82,285.86 L344.85,285.61 L344.88,285.36 L344.91,285.11 L344.94,284.86 L344.97,284.62 L345.00,284.37 L345.03,284.12 L345.06,283.87 L345.09,283.62 L345.12,283.37 L345.15,283.13 L345.18,282.88 L345.21,282.63 L345.24,282.38 L345.26,282.13 L345.29,281.88 L345.32,281.64 L345.35,281.39 L345.38,281.14 L345.41,280.89 L345.44,280.64 L345.47,280.39 L345.50,280.15 L345.53,279.90 L345.56,279.65 L345.59,279.40 L345.62,279.15 L345.66,278.91 L345.69,278.66 L345.72,278.41 L345.75,278.16 L345.78,277.91 L345.81,277.67 L345.84,277.42 L345.87,277.17 L345.90,276.92 L345.93,276.67 L345.96,276.42 L346.00,276.18 L346.03,275.93 L346.06,275.68 L346.09,275.43 L346.12,275.18 L346.15,274.94 L346.18,274.69 L346.22,274.44 L346.24,274.25M346.24,274.25 L346.25,274.19 L346.28,273.94 L346.31,273.70 L346.34,273.45 L346.38,273.20 L346.41,272.95 L346.44,272.70 L346.47,272.46 L346.50,272.21 L346.54,271.96 L346.57,271.71 L346.60,271.46 L346.63,271.22 L346.66,270.97 L346.70,270.72 L346.73,270.47 L346.76,270.23 L346.79,269.98 L346.82,269.73 L346.86,269.48 L346.89,269.23 L346.92,268.99 L346.95,268.74 L346.99,268.49 L347.02,268.24 L347.05,267.99 L347.08,267.75 L347.12,267.50 L347.15,267.25 L347.18,267.00 L347.21,266.75 L347.25,266.51 L347.28,266.26 L347.31,266.01 L347.34,265.76 L347.38,265.51 L347.41,265.27 L347.44,265.02 L347.47,264.77 L347.50,264.52 L347.54,264.28 L347.57,264.03 L347.60,263.78 L347.63,263.53 L347.67,263.28 L347.70,263.04 L347.73,262.79 L347.76,262.54 L347.80,262.29 L347.83,262.04 L347.86,261.80 L347.89,261.55 L347.92,261.30 L347.96,261.05 L347.99,260.80 L348.02,260.56 L348.05,260.31 L348.08,260.06 L348.11,259.81 L348.15,259.56 L348.18,259.32 L348.21,259.07 L348.24,258.82 L348.27,258.57 L348.30,258.32 L348.34,258.08 L348.37,257.83 L348.40,257.58 L348.43,257.33 L348.46,257.08 L348.49,256.84 L348.52,256.59 L348.56,256.34 L348.59,256.09 L348.62,255.84 L348.65,255.60 L348.68,255.35 L348.71,255.10 L348.74,254.85 L348.78,254.60 L348.81,254.36 L348.84,254.11 L348.87,253.86 L348.90,253.61 L348.93,253.36 L348.97,253.12 L349.00,252.87 L349.03,252.62 L349.06,252.37 L349.09,252.12 L349.13,251.88 L349.16,251.63 L349.19,251.38 L349.22,251.13 L349.25,250.88 L349.29,250.64 L349.32,250.39 L349.35,250.14 L349.39,249.89 L349.40,249.79M349.40,249.79 L349.42,249.64 L349.45,249.40 L349.49,249.15 L349.52,248.90 L349.55,248.65 L349.59,248.41 L349.62,248.16 L349.65,247.91 L349.69,247.66 L349.72,247.42 L349.76,247.17 L349.79,246.92 L349.83,246.67 L349.86,246.43 L349.90,246.18 L349.94,245.93 L349.97,245.68 L350.01,245.44 L350.04,245.19 L350.08,244.94 L350.12,244.69 L350.16,244.45 L350.19,244.20 L350.23,243.95 L350.27,243.71 L350.31,243.46 L350.35,243.21 L350.39,242.96 L350.42,242.72 L350.46,242.47 L350.50,242.22 L350.54,241.98 L350.58,241.73 L350.62,241.48 L350.66,241.24 L350.70,240.99 L350.75,240.74 L350.79,240.50 L350.83,240.25 L350.87,240.00 L350.91,239.76 L350.95,239.51 L350.99,239.26 L351.03,239.02 L351.07,238.77 L351.12,238.52 L351.16,238.28 L351.20,238.03 L351.24,237.78 L351.28,237.54 L351.32,237.29 L351.37,237.04 L351.41,236.80 L351.45,236.55 L351.49,236.30 L351.53,236.06 L351.57,235.81 L351.61,235.57 L351.65,235.32 L351.69,235.07 L351.73,234.82 L351.77,234.58 L351.81,234.33 L351.85,234.08 L351.89,233.84 L351.93,233.59 L351.97,233.34 L352.01,233.10 L352.05,232.85 L352.09,232.60 L352.12,232.36 L352.16,232.11 L352.20,231.86 L352.23,231.61 L352.27,231.37 L352.31,231.12 L352.34,230.87 L352.38,230.62 L352.41,230.38 L352.45,230.13 L352.48,229.88 L352.52,229.63 L352.55,229.39 L352.56,229.31M352.56,229.31 L352.58,229.14 L352.62,228.89 L352.65,228.64 L352.68,228.39 L352.71,228.15 L352.75,227.90 L352.78,227.65 L352.81,227.40 L352.84,227.16 L352.87,226.91 L352.90,226.66 L352.93,226.41 L352.96,226.16 L352.99,225.91 L353.02,225.67 L353.05,225.42 L353.08,225.17 L353.11,224.92 L353.14,224.67 L353.17,224.42 L353.20,224.18 L353.23,223.93 L353.26,223.68 L353.29,223.43 L353.32,223.18 L353.35,222.94 L353.38,222.69 L353.41,222.44 L353.43,222.19 L353.46,221.94 L353.49,221.69 L353.52,221.45 L353.55,221.20 L353.58,220.95 L353.61,220.70 L353.64,220.45 L353.67,220.20 L353.70,219.96 L353.73,219.71 L353.76,219.46 L353.79,219.21 L353.82,218.96 L353.85,218.71 L353.88,218.47 L353.91,218.22 L353.95,217.97 L353.98,217.72 L354.01,217.48 L354.04,217.23 L354.07,216.98 L354.11,216.73 L354.14,216.48 L354.17,216.24 L354.21,215.99 L354.24,215.74 L354.28,215.49 L354.31,215.25 L354.35,215.00 L354.38,214.75 L354.42,214.50 L354.45,214.26 L354.49,214.01 L354.53,213.76 L354.57,213.51 L354.60,213.27 L354.64,213.02 L354.68,212.77 L354.72,212.53 L354.76,212.28 L354.79,212.03 L354.83,211.78 L354.87,211.54 L354.91,211.29 L354.95,211.04 L354.99,210.80 L355.03,210.55 L355.07,210.30 L355.11,210.06 L355.15,209.81 L355.19,209.56 L355.24,209.32 L355.28,209.07 L355.32,208.82 L355.36,208.58 L355.40,208.33 L355.44,208.08 L355.48,207.84 L355.52,207.59 L355.57,207.34 L355.61,207.10 L355.65,206.85 L355.69,206.60 L355.72,206.43M355.72,206.43 L355.73,206.36 L355.77,206.11 L355.82,205.87 L355.86,205.62 L355.90,205.37 L355.94,205.13 L355.98,204.88 L356.02,204.63 L356.06,204.39 L356.10,204.14 L356.14,203.89 L356.18,203.65 L356.22,203.40 L356.26,203.15 L356.30,202.91 L356.34,202.66 L356.38,202.41 L356.42,202.16 L356.46,201.92 L356.50,201.67 L356.54,201.42 L356.58,201.18 L356.61,200.93 L356.65,200.68 L356.69,200.44 L356.73,200.19 L356.76,199.94 L356.80,199.69 L356.84,199.45 L356.87,199.20 L356.91,198.95 L356.95,198.70 L356.98,198.46 L357.02,198.21 L357.06,197.96 L357.09,197.71 L357.13,197.47 L357.16,197.22 L357.20,196.97 L357.23,196.72 L357.27,196.48 L357.30,196.23 L357.34,195.98 L357.37,195.73 L357.41,195.49 L357.44,195.24 L357.48,194.99 L357.51,194.74 L357.55,194.50 L357.58,194.25 L357.62,194.00 L357.65,193.75 L357.69,193.51 L357.72,193.26 L357.76,193.01 L357.79,192.76 L357.83,192.52 L357.86,192.27 L357.90,192.02 L357.93,191.77 L357.97,191.53 L358.00,191.28 L358.04,191.03 L358.07,190.78 L358.11,190.54 L358.15,190.29 L358.18,190.04 L358.22,189.79 L358.26,189.55 L358.29,189.30 L358.33,189.05 L358.37,188.81 L358.41,188.56 L358.44,188.31 L358.48,188.06 L358.52,187.82 L358.56,187.57 L358.60,187.32 L358.64,187.08 L358.68,186.83 L358.72,186.58 L358.76,186.34 L358.80,186.09 L358.84,185.84 L358.88,185.60 L358.88,185.59M358.88,185.59 L358.92,185.35 L358.96,185.10 L359.00,184.86 L359.05,184.61 L359.09,184.36 L359.13,184.12 L359.17,183.87 L359.22,183.62 L359.26,183.38 L359.30,183.13 L359.35,182.89 L359.39,182.64 L359.43,182.39 L359.48,182.15 L359.52,181.90 L359.57,181.66 L359.61,181.41 L359.66,181.16 L359.70,180.92 L359.75,180.67 L359.79,180.43 L359.84,180.18 L359.88,179.93 L359.93,179.69 L359.98,179.44 L360.02,179.20 L360.07,178.95 L360.12,178.71 L360.16,178.46 L360.21,178.21 L360.26,177.97 L360.30,177.72 L360.35,177.48 L360.40,177.23 L360.44,176.99 L360.49,176.74 L360.54,176.50 L360.59,176.25 L360.63,176.00 L360.68,175.76 L360.73,175.51 L360.78,175.27 L360.83,175.02 L360.87,174.78 L360.92,174.53 L360.97,174.29 L361.02,174.04 L361.07,173.80 L361.12,173.55 L361.17,173.31 L361.22,173.06 L361.27,172.82 L361.32,172.57 L361.37,172.33 L361.42,172.08 L361.47,171.84 L361.52,171.59 L361.57,171.35 L361.62,171.10 L361.67,170.86 L361.73,170.61 L361.78,170.37 L361.83,170.12 L361.88,169.88 L361.93,169.64 L361.98,169.39 L362.03,169.15 L362.04,169.12M362.04,169.12 L362.09,168.90 L362.14,168.66 L362.19,168.41 L362.24,168.17 L362.29,167.92 L362.34,167.68 L362.39,167.43 L362.44,167.19 L362.49,166.94 L362.54,166.70 L362.59,166.45 L362.64,166.21 L362.69,165.96 L362.74,165.72 L362.79,165.47 L362.83,165.23 L362.88,164.98 L362.93,164.74 L362.97,164.49 L363.02,164.24 L363.07,164.00 L363.11,163.75 L363.16,163.51 L363.20,163.26 L363.24,163.01 L363.29,162.77 L363.33,162.52 L363.37,162.28 L363.41,162.03 L363.46,161.78 L363.50,161.54 L363.54,161.29 L363.58,161.04 L363.62,160.80 L363.66,160.55 L363.70,160.30 L363.74,160.06 L363.78,159.81 L363.83,159.56 L363.87,159.32 L363.91,159.07 L363.95,158.82 L363.99,158.58 L364.03,158.33 L364.07,158.08 L364.11,157.84 L364.16,157.59 L364.20,157.34 L364.24,157.10 L364.29,156.85 L364.33,156.61 L364.37,156.36 L364.42,156.11 L364.46,155.87 L364.51,155.62 L364.55,155.38 L364.60,155.13 L364.65,154.89 L364.70,154.64 L364.74,154.40 L364.79,154.15 L364.84,153.90 L364.89,153.66 L364.94,153.41 L364.99,153.17 L365.04,152.92 L365.09,152.68 L365.14,152.44 L365.19,152.19 L365.20,152.15M365.20,152.15 L365.24,151.95 L365.29,151.70 L365.35,151.46 L365.40,151.21 L365.45,150.97 L365.50,150.72 L365.55,150.48 L365.60,150.23 L365.65,149.99 L365.70,149.74 L365.75,149.50 L365.80,149.25 L365.85,149.01 L365.90,148.76 L365.95,148.52 L366.00,148.27 L366.05,148.03 L366.10,147.78 L366.14,147.54 L366.19,147.29 L366.24,147.05 L366.28,146.80 L366.33,146.55 L366.37,146.31 L366.42,146.06 L366.47,145.82 L366.51,145.57 L366.55,145.33 L366.60,145.08 L366.64,144.83 L366.69,144.59 L366.73,144.34 L366.78,144.09 L366.82,143.85 L366.87,143.60 L366.91,143.36 L366.95,143.11 L367.00,142.87 L367.05,142.62 L367.09,142.37 L367.14,142.13 L367.18,141.88 L367.23,141.64 L367.28,141.39 L367.33,141.15 L367.38,140.90 L367.43,140.66 L367.48,140.41 L367.53,140.17 L367.58,139.92 L367.63,139.68 L367.68,139.43 L367.74,139.19 L367.79,138.95 L367.85,138.70 L367.90,138.46 L367.96,138.22 L368.02,137.97 L368.08,137.73 L368.14,137.49 L368.19,137.24 L368.25,137.00 L368.32,136.76 L368.36,136.58M368.36,136.58 L368.38,136.52 L368.44,136.27 L368.50,136.03 L368.56,135.79 L368.62,135.55 L368.69,135.31 L368.75,135.06 L368.81,134.82 L368.88,134.58 L368.94,134.34 L369.00,134.10 L369.07,133.85 L369.13,133.61 L369.19,133.37 L369.26,133.13 L369.32,132.89 L369.38,132.65 L369.45,132.40 L369.51,132.16 L369.57,131.92 L369.64,131.68 L369.70,131.44 L369.76,131.19 L369.82,130.95 L369.89,130.71 L369.95,130.47 L370.01,130.23 L370.07,129.98 L370.14,129.74 L370.20,129.50 L370.26,129.26 L370.32,129.01 L370.38,128.77 L370.45,128.53 L370.51,128.29 L370.57,128.05 L370.63,127.80 L370.69,127.56 L370.75,127.32 L370.82,127.08 L370.88,126.83 L370.94,126.59 L371.00,126.35 L371.06,126.11 L371.12,125.87 L371.19,125.62 L371.25,125.38 L371.31,125.14 L371.37,124.90 L371.44,124.66 L371.50,124.41 L371.52,124.34M371.52,124.34 L371.57,124.17 L371.63,123.93 L371.70,123.69 L371.76,123.45 L371.83,123.21 L371.90,122.97 L371.97,122.73 L372.04,122.49 L372.11,122.25 L372.18,122.01 L372.26,121.77 L372.33,121.54 L372.41,121.30 L372.49,121.06 L372.56,120.82 L372.64,120.59 L372.72,120.35 L372.81,120.11 L372.89,119.88 L372.97,119.64 L373.06,119.41 L373.14,119.17 L373.23,118.94 L373.32,118.70 L373.40,118.47 L373.49,118.24 L373.58,118.00 L373.67,117.77 L373.76,117.54 L373.85,117.30 L373.95,117.07 L374.04,116.84 L374.13,116.61 L374.23,116.38 L374.32,116.15 L374.42,115.92 L374.52,115.69 L374.61,115.46 L374.68,115.30M374.68,115.30 L374.71,115.23 L374.81,115.00 L374.91,114.77 L375.01,114.54 L375.11,114.31 L375.22,114.08 L375.32,113.86 L375.43,113.63 L375.53,113.40 L375.64,113.18 L375.75,112.96 L375.86,112.73 L375.97,112.51 L376.09,112.29 L376.20,112.07 L376.32,111.85 L376.44,111.64 L376.56,111.42 L376.69,111.21 L376.82,111.00 L376.95,110.80 L377.08,110.59 L377.22,110.39 L377.36,110.20 L377.51,110.01 L377.65,109.82 L377.81,109.64 L377.84,109.61M377.84,109.61 L377.96,109.47 L378.13,109.30 L378.29,109.14 L378.46,108.99 L378.63,108.84 L378.81,108.70 L378.99,108.58 L379.18,108.46 L379.37,108.35 L379.56,108.26 L379.75,108.18 L379.95,108.10 L380.15,108.05 L380.35,108.00 L380.55,107.97 L380.75,107.95 L380.95,107.94 L381.00,107.94M381.00,107.94 L381.15,107.95 L381.35,107.97 L381.55,108.00 L381.74,108.05 L381.94,108.11 L382.13,108.19 L382.32,108.28 L382.50,108.37 L382.68,108.48 L382.86,108.61 L383.03,108.74 L383.20,108.88 L383.37,109.03 L383.53,109.19 L383.69,109.35 L383.84,109.53 L383.99,109.71 L384.13,109.90 L384.16,109.93M384.16,109.93 L384.27,110.09 L384.41,110.28 L384.54,110.48 L384.67,110.69 L384.80,110.90 L384.92,111.11 L385.04,111.32 L385.16,111.54 L385.27,111.76 L385.38,111.98 L385.49,112.20 L385.60,112.42 L385.71,112.65 L385.81,112.87 L385.91,113.10 L386.01,113.33 L386.11,113.56 L386.21,113.79 L386.30,114.02 L386.40,114.25 L386.49,114.48 L386.58,114.71 L386.67,114.95 L386.76,115.18 L386.85,115.41 L386.94,115.65 L387.02,115.88 L387.11,116.12 L387.19,116.35 L387.28,116.59 L387.32,116.71M387.32,116.71 L387.36,116.82 L387.44,117.06 L387.52,117.30 L387.60,117.53 L387.68,117.77 L387.76,118.01 L387.83,118.25 L387.91,118.48 L387.99,118.72 L388.06,118.96 L388.13,119.20 L388.21,119.44 L388.28,119.68 L388.35,119.92 L388.42,120.16 L388.49,120.40 L388.55,120.64 L388.62,120.88 L388.69,121.12 L388.75,121.36 L388.82,121.60 L388.88,121.84 L388.95,122.08 L389.01,122.33 L389.07,122.57 L389.13,122.81 L389.20,123.05 L389.26,123.30 L389.32,123.54 L389.38,123.78 L389.44,124.02 L389.49,124.27 L389.55,124.51 L389.61,124.75 L389.67,125.00 L389.72,125.24 L389.78,125.48 L389.83,125.73 L389.89,125.97 L389.94,126.22 L390.00,126.46 L390.05,126.70 L390.11,126.95 L390.16,127.19 L390.21,127.44 L390.26,127.68 L390.31,127.93 L390.36,128.17 L390.41,128.42 L390.46,128.66 L390.48,128.74M390.48,128.74 L390.51,128.91 L390.56,129.15 L390.61,129.40 L390.66,129.64 L390.71,129.89 L390.76,130.13 L390.81,130.38 L390.85,130.62 L390.90,130.87 L390.95,131.11 L391.00,131.36 L391.04,131.60 L391.09,131.85 L391.14,132.09 L391.19,132.34 L391.23,132.59 L391.28,132.83 L391.33,133.08 L391.38,133.32 L391.43,133.57 L391.48,133.81 L391.53,134.06 L391.57,134.30 L391.62,134.55 L391.67,134.79 L391.72,135.04 L391.77,135.28 L391.82,135.53 L391.87,135.77 L391.92,136.02 L391.97,136.26 L392.02,136.51 L392.07,136.75 L392.12,137.00 L392.17,137.24 L392.22,137.49 L392.27,137.73 L392.32,137.98 L392.37,138.22 L392.42,138.47 L392.47,138.71 L392.52,138.96 L392.57,139.20 L392.62,139.45 L392.67,139.69 L392.72,139.94 L392.77,140.18 L392.82,140.43 L392.87,140.67 L392.92,140.92 L392.97,141.16 L393.02,141.41 L393.07,141.65 L393.11,141.90 L393.16,142.14 L393.21,142.39 L393.26,142.63 L393.31,142.88 L393.36,143.12 L393.40,143.37 L393.45,143.61 L393.50,143.86 L393.55,144.11 L393.60,144.35 L393.64,144.59M393.64,144.59 L393.64,144.60 L393.69,144.84 L393.74,145.09 L393.78,145.33 L393.83,145.58 L393.87,145.82 L393.92,146.07 L393.96,146.32 L394.01,146.56 L394.05,146.81 L394.10,147.05 L394.14,147.30 L394.18,147.55 L394.22,147.79 L394.26,148.04 L394.30,148.29 L394.35,148.53 L394.38,148.78 L394.42,149.03 L394.46,149.27 L394.50,149.52 L394.54,149.77 L394.58,150.02 L394.61,150.26 L394.65,150.51 L394.68,150.76 L394.72,151.00 L394.75,151.25 L394.79,151.50 L394.82,151.75 L394.86,152.00 L394.89,152.24 L394.92,152.49 L394.96,152.74 L394.99,152.99 L395.02,153.23 L395.05,153.48 L395.09,153.73 L395.12,153.98 L395.15,154.23 L395.18,154.47 L395.21,154.72 L395.25,154.97 L395.28,155.22 L395.31,155.47 L395.34,155.71 L395.37,155.96 L395.40,156.21 L395.44,156.46 L395.47,156.71 L395.50,156.95 L395.53,157.20 L395.56,157.45 L395.59,157.70 L395.63,157.95 L395.66,158.19 L395.69,158.44 L395.72,158.69 L395.75,158.94 L395.78,159.19 L395.81,159.43 L395.85,159.68 L395.88,159.93 L395.91,160.18 L395.94,160.43 L395.97,160.67 L396.00,160.92 L396.03,161.17 L396.07,161.42 L396.10,161.67 L396.13,161.91 L396.16,162.16 L396.19,162.41 L396.22,162.66 L396.25,162.91 L396.29,163.15 L396.32,163.40 L396.35,163.65 L396.38,163.90 L396.41,164.15 L396.44,164.39 L396.48,164.64 L396.51,164.89 L396.54,165.14 L396.57,165.39 L396.60,165.63 L396.64,165.88 L396.67,166.13 L396.70,166.38 L396.73,166.63 L396.76,166.87 L396.79,167.12 L396.80,167.16M396.80,167.16 L396.83,167.37 L396.86,167.62 L396.89,167.87 L396.92,168.11 L396.96,168.36 L396.99,168.61 L397.02,168.86 L397.05,169.11 L397.08,169.35 L397.12,169.60 L397.15,169.85 L397.18,170.10 L397.21,170.35 L397.25,170.59 L397.28,170.84 L397.31,171.09 L397.34,171.34 L397.38,171.59 L397.41,171.83 L397.44,172.08 L397.47,172.33 L397.50,172.58 L397.54,172.82 L397.57,173.07 L397.60,173.32 L397.63,173.57 L397.67,173.82 L397.70,174.06 L397.73,174.31 L397.76,174.56 L397.80,174.81 L397.83,175.06 L397.86,175.30 L397.89,175.55 L397.93,175.80 L397.96,176.05 L397.99,176.30 L398.02,176.54 L398.05,176.79 L398.09,177.04 L398.12,177.29 L398.15,177.54 L398.18,177.78 L398.22,178.03 L398.25,178.28 L398.28,178.53 L398.31,178.77 L398.34,179.02 L398.38,179.27 L398.41,179.52 L398.44,179.77 L398.47,180.01 L398.50,180.26 L398.53,180.51 L398.57,180.76 L398.60,181.01 L398.63,181.25 L398.66,181.50 L398.69,181.75 L398.73,182.00 L398.76,182.25 L398.79,182.49 L398.82,182.74 L398.85,182.99 L398.88,183.24 L398.92,183.49 L398.95,183.73 L398.98,183.98 L399.01,184.23 L399.04,184.48 L399.08,184.73 L399.11,184.97 L399.14,185.22 L399.17,185.47 L399.20,185.72 L399.23,185.97 L399.27,186.21 L399.30,186.46 L399.33,186.71 L399.36,186.96 L399.39,187.21 L399.42,187.45 L399.46,187.70 L399.49,187.95 L399.52,188.20 L399.55,188.45 L399.58,188.69 L399.61,188.94 L399.64,189.19 L399.68,189.44 L399.71,189.69 L399.74,189.93 L399.77,190.18 L399.80,190.43 L399.83,190.68 L399.86,190.93 L399.89,191.18 L399.92,191.42 L399.95,191.67 L399.96,191.74M399.96,191.74 L399.98,191.92 L400.01,192.17 L400.04,192.42 L400.07,192.66 L400.10,192.91 L400.13,193.16 L400.16,193.41 L400.19,193.66 L400.22,193.91 L400.25,194.15 L400.28,194.40 L400.31,194.65 L400.33,194.90 L400.36,195.15 L400.39,195.40 L400.42,195.64 L400.45,195.89 L400.48,196.14 L400.50,196.39 L400.53,196.64 L400.56,196.89 L400.59,197.14 L400.61,197.38 L400.64,197.63 L400.67,197.88 L400.69,198.13 L400.72,198.38 L400.75,198.63 L400.77,198.88 L400.80,199.12 L400.83,199.37 L400.85,199.62 L400.88,199.87 L400.90,200.12 L400.93,200.37 L400.95,200.62 L400.98,200.86 L401.00,201.11 L401.03,201.36 L401.05,201.61 L401.08,201.86 L401.10,202.11 L401.13,202.36 L401.15,202.61 L401.18,202.86 L401.20,203.10 L401.23,203.35 L401.25,203.60 L401.28,203.85 L401.30,204.10 L401.33,204.35 L401.35,204.60 L401.37,204.85 L401.40,205.09 L401.42,205.34 L401.45,205.59 L401.47,205.84 L401.49,206.09 L401.52,206.34 L401.54,206.59 L401.57,206.84 L401.59,207.09 L401.61,207.33 L401.64,207.58 L401.66,207.83 L401.68,208.08 L401.71,208.33 L401.73,208.58 L401.76,208.83 L401.78,209.08 L401.80,209.33 L401.83,209.57 L401.85,209.82 L401.88,210.07 L401.90,210.32 L401.92,210.57 L401.95,210.82 L401.97,211.07 L401.99,211.32 L402.02,211.57 L402.04,211.81 L402.07,212.06 L402.09,212.31 L402.12,212.56 L402.14,212.81 L402.16,213.06 L402.19,213.31 L402.21,213.56 L402.24,213.80 L402.26,214.05 L402.28,214.30 L402.31,214.55 L402.33,214.80 L402.36,215.05 L402.38,215.30 L402.41,215.55 L402.43,215.80 L402.46,216.04 L402.48,216.29 L402.51,216.54 L402.53,216.79 L402.56,217.04 L402.58,217.29 L402.61,217.54 L402.63,217.79 L402.65,218.03 L402.68,218.28 L402.70,218.53 L402.73,218.78 L402.75,219.03 L402.78,219.28 L402.80,219.53 L402.83,219.78 L402.85,220.02 L402.88,220.27 L402.90,220.52 L402.93,220.77 L402.96,221.02 L402.98,221.27 L403.01,221.52 L403.03,221.77 L403.06,222.01 L403.08,222.26 L403.11,222.51 L403.12,222.65M403.12,222.65 L403.13,222.76 L403.16,223.01 L403.18,223.26 L403.21,223.51 L403.23,223.76 L403.26,224.00 L403.28,224.25 L403.31,224.50 L403.33,224.75 L403.36,225.00 L403.38,225.25 L403.41,225.50 L403.43,225.75 L403.46,225.99 L403.48,226.24 L403.51,226.49 L403.53,226.74 L403.56,226.99 L403.58,227.24 L403.61,227.49 L403.64,227.74 L403.66,227.98 L403.69,228.23 L403.71,228.48 L403.74,228.73 L403.76,228.98 L403.79,229.23 L403.81,229.48 L403.84,229.73 L403.86,229.97 L403.89,230.22 L403.91,230.47 L403.94,230.72 L403.96,230.97 L403.99,231.22 L404.02,231.47 L404.04,231.72 L404.07,231.96 L404.09,232.21 L404.12,232.46 L404.14,232.71 L404.17,232.96 L404.19,233.21 L404.22,233.46 L404.24,233.71 L404.27,233.95 L404.30,234.20 L404.32,234.45 L404.35,234.70 L404.37,234.95 L404.40,235.20 L404.42,235.45 L404.45,235.69 L404.47,235.94 L404.50,236.19 L404.53,236.44 L404.55,236.69 L404.58,236.94 L404.60,237.19 L404.63,237.44 L404.65,237.68 L404.68,237.93 L404.71,238.18 L404.73,238.43 L404.76,238.68 L404.78,238.93 L404.81,239.18 L404.84,239.42 L404.86,239.67 L404.89,239.92 L404.91,240.17 L404.94,240.42 L404.97,240.67 L404.99,240.92 L405.02,241.17 L405.05,241.41 L405.07,241.66 L405.10,241.91 L405.12,242.16 L405.15,242.41 L405.18,242.66 L405.20,242.91 L405.23,243.15 L405.26,243.40 L405.28,243.65 L405.31,243.90 L405.34,244.15 L405.36,244.40 L405.39,244.65 L405.42,244.89 L405.44,245.14 L405.47,245.39 L405.50,245.64 L405.53,245.89 L405.55,246.14 L405.58,246.39 L405.61,246.63 L405.63,246.88 L405.66,247.13 L405.69,247.38 L405.71,247.63 L405.74,247.88 L405.77,248.13 L405.79,248.37 L405.82,248.62 L405.85,248.87 L405.87,249.12 L405.90,249.37 L405.93,249.62 L405.95,249.87 L405.98,250.11 L406.01,250.36 L406.03,250.61 L406.06,250.86 L406.09,251.11 L406.11,251.36 L406.14,251.61 L406.16,251.85 L406.19,252.10 L406.22,252.35 L406.24,252.60 L406.27,252.85 L406.28,252.96M406.28,252.96 L406.29,253.10 L406.32,253.35 L406.35,253.60 L406.37,253.84 L406.40,254.09 L406.42,254.34 L406.45,254.59 L406.47,254.84 L406.50,255.09 L406.52,255.34 L406.55,255.59 L406.57,255.83 L406.60,256.08 L406.62,256.33 L406.65,256.58 L406.68,256.83 L406.70,257.08 L406.73,257.33 L406.75,257.58 L406.78,257.82 L406.80,258.07 L406.83,258.32 L406.85,258.57 L406.88,258.82 L406.90,259.07 L406.92,259.32 L406.95,259.57 L406.97,259.81 L407.00,260.06 L407.02,260.31 L407.05,260.56 L407.07,260.81 L407.10,261.06 L407.12,261.31 L407.15,261.56 L407.17,261.80 L407.20,262.05 L407.22,262.30 L407.25,262.55 L407.27,262.80 L407.29,263.05 L407.32,263.30 L407.34,263.55 L407.37,263.80 L407.39,264.04 L407.42,264.29 L407.44,264.54 L407.46,264.79 L407.49,265.04 L407.51,265.29 L407.54,265.54 L407.56,265.79 L407.58,266.03 L407.61,266.28 L407.63,266.53 L407.66,266.78 L407.68,267.03 L407.70,267.28 L407.73,267.53 L407.75,267.78 L407.77,268.03 L407.80,268.27 L407.82,268.52 L407.84,268.77 L407.87,269.02 L407.89,269.27 L407.91,269.52 L407.94,269.77 L407.96,270.02 L407.98,270.27 L408.00,270.52 L408.03,270.76 L408.05,271.01 L408.07,271.26 L408.09,271.51 L408.12,271.76 L408.14,272.01 L408.16,272.26 L408.18,272.51 L408.20,272.76 L408.22,273.01 L408.25,273.26 L408.27,273.50 L408.29,273.75 L408.31,274.00 L408.33,274.25 L408.35,274.50 L408.37,274.75 L408.39,275.00 L408.41,275.25 L408.43,275.50 L408.45,275.75 L408.47,276.00 L408.49,276.25 L408.51,276.49 L408.53,276.74 L408.55,276.99 L408.57,277.24 L408.59,277.49 L408.61,277.74 L408.63,277.99 L408.65,278.24 L408.67,278.49 L408.69,278.74 L408.71,278.99 L408.73,279.24 L408.75,279.49 L408.77,279.73 L408.79,279.98 L408.81,280.23 L408.83,280.48 L408.85,280.73 L408.87,280.98 L408.89,281.23 L408.91,281.48 L408.93,281.73 L408.95,281.98 L408.98,282.23 L409.00,282.47 L409.02,282.72 L409.04,282.97 L409.06,283.22 L409.08,283.47 L409.11,283.72 L409.13,283.97 L409.15,284.22 L409.17,284.47 L409.19,284.72 L409.22,284.97 L409.24,285.21 L409.26,285.46 L409.28,285.71 L409.31,285.96 L409.33,286.21 L409.35,286.46 L409.38,286.71 L409.40,286.96 L409.42,287.21 L409.44,287.41M409.44,287.41 L409.44,287.46 L409.47,287.70 L409.49,287.95 L409.51,288.20 L409.54,288.45 L409.56,288.70 L409.58,288.95 L409.60,289.20 L409.63,289.45 L409.65,289.70 L409.67,289.94 L409.70,290.19 L409.72,290.44 L409.74,290.69 L409.77,290.94 L409.79,291.19 L409.81,291.44 L409.83,291.69 L409.86,291.94 L409.88,292.19 L409.90,292.43 L409.93,292.68 L409.95,292.93 L409.97,293.18 L410.00,293.43 L410.02,293.68 L410.04,293.93 L410.06,294.18 L410.09,294.43 L410.11,294.67 L410.13,294.92 L410.16,295.17 L410.18,295.42 L410.20,295.67 L410.23,295.92 L410.25,296.17 L410.27,296.42 L410.30,296.67 L410.32,296.92 L410.34,297.16 L410.36,297.41 L410.39,297.66 L410.41,297.91 L410.43,298.16 L410.46,298.41 L410.48,298.66 L410.50,298.91 L410.53,299.16 L410.55,299.40 L410.57,299.65 L410.60,299.90 L410.62,300.15 L410.64,300.40 L410.67,300.65 L410.69,300.90 L410.71,301.15 L410.74,301.40 L410.76,301.65 L410.78,301.89 L410.81,302.14 L410.83,302.39 L410.85,302.64 L410.88,302.89 L410.90,303.14 L410.92,303.39 L410.95,303.64 L410.97,303.89 L411.00,304.13 L411.02,304.38 L411.04,304.63 L411.07,304.88 L411.09,305.13 L411.11,305.38 L411.14,305.63 L411.16,305.88 L411.18,306.13 L411.21,306.37 L411.23,306.62 L411.26,306.87 L411.28,307.12 L411.30,307.37 L411.33,307.62 L411.35,307.87 L411.38,308.12 L411.40,308.37 L411.42,308.61 L411.45,308.86 L411.47,309.11 L411.50,309.36 L411.52,309.61 L411.54,309.86 L411.57,310.11 L411.59,310.36 L411.62,310.61 L411.64,310.85 L411.66,311.10 L411.69,311.35 L411.71,311.60 L411.74,311.85 L411.76,312.10 L411.79,312.35 L411.81,312.60 L411.83,312.84 L411.86,313.09 L411.88,313.34 L411.91,313.59 L411.93,313.84 L411.96,314.09 L411.98,314.34 L412.01,314.59 L412.03,314.84 L412.05,315.08 L412.08,315.33 L412.10,315.58 L412.13,315.83 L412.15,316.08 L412.18,316.33 L412.20,316.58 L412.23,316.83 L412.25,317.07 L412.28,317.32 L412.30,317.57 L412.33,317.82 L412.35,318.07 L412.38,318.32 L412.40,318.57 L412.43,318.82 L412.45,319.06 L412.48,319.31 L412.51,319.56 L412.53,319.81 L412.56,320.06 L412.58,320.31 L412.60,320.49M412.60,320.49 L412.61,320.56 L412.63,320.81 L412.66,321.05 L412.68,321.30 L412.71,321.55 L412.74,321.80 L412.76,322.05 L412.79,322.30 L412.81,322.55 L412.84,322.79 L412.87,323.04 L412.89,323.29 L412.92,323.54 L412.94,323.79 L412.97,324.04 L413.00,324.29 L413.02,324.53 L413.05,324.78 L413.08,325.03 L413.10,325.28 L413.13,325.53 L413.16,325.78 L413.18,326.03 L413.21,326.27 L413.24,326.52 L413.26,326.77 L413.29,327.02 L413.32,327.27 L413.35,327.52 L413.37,327.77 L413.40,328.01 L413.43,328.26 L413.46,328.51 L413.48,328.76 L413.51,329.01 L413.54,329.26 L413.57,329.51 L413.59,329.75 L413.62,330.00 L413.65,330.25 L413.68,330.50 L413.71,330.75 L413.73,331.00 L413.76,331.24 L413.79,331.49 L413.82,331.74 L413.85,331.99 L413.87,332.24 L413.90,332.49 L413.93,332.74 L413.96,332.98 L413.99,333.23 L414.02,333.48 L414.04,333.73 L414.07,333.98 L414.10,334.23 L414.13,334.47 L414.16,334.72 L414.19,334.97 L414.22,335.22 L414.24,335.47 L414.27,335.72 L414.30,335.96 L414.33,336.21 L414.36,336.46 L414.39,336.71 L414.42,336.96 L414.45,337.21 L414.48,337.45 L414.50,337.70 L414.53,337.95 L414.56,338.20 L414.59,338.45 L414.62,338.70 L414.65,338.94 L414.68,339.19 L414.71,339.44 L414.74,339.69 L414.77,339.94 L414.79,340.19 L414.82,340.43 L414.85,340.68 L414.88,340.93 L414.91,341.18 L414.94,341.43 L414.97,341.68 L415.00,341.92 L415.03,342.17 L415.06,342.42 L415.09,342.67 L415.12,342.92 L415.15,343.17 L415.17,343.41 L415.20,343.66 L415.23,343.91 L415.26,344.16 L415.29,344.41 L415.32,344.66 L415.35,344.90 L415.38,345.15 L415.41,345.40 L415.44,345.65 L415.47,345.90 L415.50,346.15 L415.53,346.39 L415.55,346.64 L415.58,346.89 L415.61,347.14 L415.64,347.39 L415.67,347.64 L415.70,347.88 L415.73,348.13 L415.76,348.38 L415.76,348.39M415.76,348.39 L415.79,348.63 L415.82,348.88 L415.85,349.12 L415.88,349.37 L415.90,349.62 L415.93,349.87 L415.96,350.12 L415.99,350.37 L416.02,350.61 L416.05,350.86 L416.08,351.11 L416.11,351.36 L416.14,351.61 L416.17,351.86 L416.19,352.10 L416.22,352.35 L416.25,352.60 L416.28,352.85 L416.31,353.10 L416.34,353.35 L416.37,353.60 L416.40,353.84 L416.42,354.09 L416.45,354.34 L416.48,354.59 L416.51,354.84 L416.54,355.09 L416.57,355.33 L416.59,355.58 L416.62,355.83 L416.65,356.08 L416.68,356.33 L416.71,356.58 L416.73,356.82 L416.76,357.07 L416.79,357.32 L416.82,357.57 L416.85,357.82 L416.87,358.07 L416.90,358.32 L416.93,358.56 L416.96,358.81 L416.98,359.06 L417.01,359.31 L417.04,359.56 L417.07,359.81 L417.09,360.05 L417.12,360.30 L417.15,360.55 L417.18,360.80 L417.20,361.05 L417.23,361.30 L417.26,361.55 L417.28,361.79 L417.31,362.04 L417.34,362.29 L417.36,362.54 L417.39,362.79 L417.42,363.04 L417.44,363.29 L417.47,363.53 L417.50,363.78 L417.52,364.03 L417.55,364.28 L417.58,364.53 L417.60,364.78 L417.63,365.03 L417.66,365.27 L417.68,365.52 L417.71,365.77 L417.74,366.02 L417.76,366.27 L417.79,366.52 L417.81,366.77 L417.84,367.02 L417.87,367.26 L417.89,367.51 L417.92,367.76 L417.94,368.01 L417.97,368.26 L418.00,368.51 L418.02,368.76 L418.05,369.00 L418.07,369.25 L418.10,369.50 L418.13,369.75 L418.15,370.00 L418.18,370.25 L418.20,370.50 L418.23,370.75 L418.25,370.99 L418.28,371.24 L418.31,371.49 L418.33,371.74 L418.36,371.99 L418.38,372.24 L418.41,372.49 L418.43,372.73 L418.46,372.98 L418.48,373.23 L418.51,373.48 L418.53,373.73 L418.56,373.98 L418.59,374.23 L418.61,374.48 L418.64,374.72 L418.66,374.97 L418.69,375.22 L418.71,375.47 L418.74,375.72 L418.76,375.97 L418.79,376.22 L418.81,376.47 L418.84,376.71 L418.86,376.96 L418.88,377.21 L418.91,377.46 L418.92,377.57M418.92,377.57 L418.93,377.71 L418.96,377.96 L418.98,378.21 L419.01,378.46 L419.03,378.71 L419.06,378.95 L419.08,379.20 L419.11,379.45 L419.13,379.70 L419.15,379.95 L419.18,380.20 L419.20,380.45 L419.23,380.70 L419.25,380.94 L419.28,381.19 L419.30,381.44 L419.32,381.69 L419.35,381.94 L419.37,382.19 L419.40,382.44 L419.42,382.69 L419.44,382.94 L419.47,383.18 L419.49,383.43 L419.51,383.68 L419.54,383.93 L419.56,384.18 L419.58,384.43 L419.61,384.68 L419.63,384.93 L419.66,385.18 L419.68,385.42 L419.70,385.67 L419.72,385.92 L419.75,386.17 L419.77,386.42 L419.79,386.67 L419.82,386.92 L419.84,387.17 L419.86,387.42 L419.89,387.67 L419.91,387.91 L419.93,388.16 L419.95,388.41 L419.98,388.66 L420.00,388.91 L420.02,389.16 L420.04,389.41 L420.06,389.66 L420.09,389.91 L420.11,390.16 L420.13,390.40 L420.15,390.65 L420.17,390.90 L420.19,391.15 L420.21,391.40 L420.23,391.65 L420.26,391.90 L420.28,392.15 L420.30,392.40 L420.32,392.65 L420.34,392.90 L420.36,393.15 L420.38,393.39 L420.40,393.64 L420.41,393.89 L420.43,394.14 L420.45,394.39 L420.47,394.64 L420.49,394.89 L420.51,395.14 L420.53,395.39 L420.55,395.64 L420.56,395.89 L420.58,396.14 L420.60,396.39 L420.62,396.64 L420.63,396.89 L420.65,397.13 L420.67,397.38 L420.69,397.63 L420.70,397.88 L420.72,398.13 L420.74,398.38 L420.75,398.63 L420.77,398.88 L420.79,399.13 L420.80,399.38 L420.82,399.63 L420.84,399.88 L420.85,400.13 L420.87,400.38 L420.89,400.63 L420.90,400.88 L420.92,401.13 L420.94,401.38 L420.95,401.62 L420.97,401.87 L420.99,402.12 L421.00,402.37 L421.02,402.62 L421.04,402.87 L421.05,403.12 L421.07,403.37 L421.09,403.62 L421.10,403.87 L421.12,404.12 L421.14,404.37 L421.16,404.62 L421.17,404.87 L421.19,405.12 L421.21,405.37 L421.23,405.62 L421.25,405.86 L421.27,406.11 L421.29,406.36 L421.31,406.61 L421.33,406.86 L421.35,407.11 L421.37,407.36 L421.39,407.61 L421.41,407.86 L421.43,408.11 L421.45,408.36 L421.47,408.61 L421.49,408.85 L421.52,409.10 L421.54,409.35 L421.56,409.60 L421.59,409.85 L421.61,410.10 L421.63,410.35 L421.66,410.60 L421.68,410.85 L421.71,411.09 L421.73,411.34 L421.76,411.59 L421.78,411.84 L421.81,412.09 L421.83,412.34 L421.86,412.59 L421.89,412.84 L421.91,413.08 L421.94,413.33 L421.97,413.58 L421.99,413.83 L422.02,414.08 L422.05,414.33 L422.08,414.57 L422.08,414.59M422.08,414.59 L422.11,414.82 L422.13,415.07 L422.16,415.32 L422.19,415.57 L422.22,415.82 L422.25,416.06 L422.28,416.31 L422.31,416.56 L422.34,416.81 L422.37,417.06 L422.40,417.31 L422.43,417.55 L422.46,417.80 L422.49,418.05 L422.52,418.30 L422.55,418.55 L422.58,418.80 L422.61,419.04 L422.64,419.29 L422.67,419.54 L422.70,419.79 L422.73,420.04 L422.76,420.28 L422.79,420.53 L422.82,420.78 L422.85,421.03 L422.88,421.28 L422.90,421.53 L422.93,421.77 L422.96,422.02 L422.99,422.27 L423.02,422.52 L423.05,422.77 L423.08,423.02 L423.11,423.26 L423.14,423.51 L423.17,423.76 L423.20,424.01 L423.22,424.26 L423.25,424.51 L423.28,424.75 L423.31,425.00 L423.34,425.25 L423.37,425.50 L423.40,425.75 L423.42,426.00 L423.45,426.24 L423.48,426.49 L423.51,426.74 L423.54,426.99 L423.56,427.24 L423.59,427.49 L423.62,427.74 L423.65,427.98 L423.68,428.23 L423.70,428.48 L423.73,428.73 L423.76,428.98 L423.79,429.23 L423.81,429.47 L423.84,429.72 L423.87,429.97 L423.90,430.22 L423.93,430.47 L423.95,430.72 L423.98,430.97 L424.01,431.21 L424.04,431.46 L424.07,431.71 L424.09,431.96 L424.12,432.21 L424.15,432.46 L424.18,432.70 L424.20,432.95 L424.23,433.20 L424.26,433.45 L424.29,433.70 L424.31,433.95 L424.34,434.20 L424.37,434.44 L424.40,434.69 L424.43,434.94 L424.45,435.19 L424.48,435.44 L424.51,435.69 L424.54,435.93 L424.56,436.18 L424.59,436.43 L424.62,436.68 L424.65,436.93 L424.67,437.18 L424.70,437.43 L424.73,437.67 L424.76,437.92 L424.78,438.17 L424.81,438.42 L424.84,438.67 L424.87,438.92 L424.89,439.17 L424.92,439.41 L424.95,439.66 L424.98,439.91 L425.00,440.16 L425.03,440.41 L425.06,440.66 L425.08,440.91 L425.11,441.15 L425.14,441.40 L425.17,441.65 L425.19,441.90 L425.22,442.15 L425.24,442.33M425.24,442.33 L425.25,442.40 L425.27,442.64 L425.30,442.89 L425.33,443.14 L425.36,443.39 L425.38,443.64 L425.41,443.89 L425.44,444.14 L425.46,444.38 L425.49,444.63 L425.52,444.88 L425.55,445.13 L425.57,445.38 L425.60,445.63 L425.63,445.88 L425.66,446.12 L425.68,446.37 L425.71,446.62 L425.74,446.87 L425.77,447.12 L425.80,447.37 L425.82,447.61 L425.85,447.86 L425.88,448.11 L425.91,448.36 L425.94,448.61 L425.97,448.86 L425.99,449.11 L426.02,449.35 L426.05,449.60 L426.08,449.85 L426.11,450.10 L426.14,450.35 L426.17,450.60 L426.20,450.84 L426.23,451.09 L426.26,451.34 L426.29,451.59 L426.32,451.84 L426.35,452.08 L426.38,452.33 L426.41,452.58 L426.44,452.83 L426.47,453.08 L426.50,453.33 L426.53,453.57 L426.56,453.82 L426.59,454.07 L426.62,454.32 L426.65,454.57 L426.68,454.81 L426.72,455.06 L426.75,455.31 L426.78,455.56 L426.81,455.81 L426.84,456.05 L426.87,456.30 L426.90,456.55 L426.93,456.80 L426.97,457.05 L427.00,457.29 L427.03,457.54 L427.06,457.79 L427.09,458.04 L427.12,458.29 L427.16,458.53 L427.19,458.78 L427.22,459.03 L427.25,459.28 L427.28,459.53 L427.32,459.77 L427.35,460.02 L427.38,460.27 L427.41,460.52 L427.44,460.77 L427.48,461.01 L427.51,461.26 L427.54,461.51 L427.57,461.76 L427.60,462.01 L427.64,462.25 L427.67,462.50 L427.70,462.75 L427.73,463.00 L427.77,463.25 L427.80,463.49 L427.83,463.74 L427.86,463.99 L427.90,464.24 L427.93,464.48 L427.96,464.73 L427.99,464.98 L428.03,465.23 L428.06,465.48 L428.09,465.72 L428.13,465.97 L428.16,466.22 L428.19,466.47 L428.23,466.72 L428.26,466.96 L428.29,467.21 L428.33,467.46 L428.36,467.71 L428.39,467.95 L428.40,468.00M428.40,468.00 L428.43,468.20 L428.46,468.45 L428.49,468.70 L428.53,468.95 L428.56,469.19 L428.60,469.44 L428.63,469.69 L428.66,469.94 L428.70,470.18 L428.73,470.43 L428.77,470.68 L428.80,470.93 L428.84,471.17 L428.87,471.42 L428.90,471.67 L428.94,471.92 L428.97,472.16 L429.01,472.41 L429.04,472.66 L429.08,472.91 L429.11,473.16 L429.14,473.40 L429.18,473.65 L429.21,473.90 L429.24,474.15 L429.28,474.39 L429.31,474.64 L429.34,474.89 L429.38,475.14 L429.41,475.39 L429.44,475.63 L429.48,475.88 L429.51,476.13 L429.54,476.38 L429.57,476.62 L429.61,476.87 L429.64,477.12 L429.67,477.37 L429.70,477.62 L429.73,477.86 L429.77,478.11 L429.80,478.36 L429.83,478.61 L429.86,478.86 L429.89,479.10 L429.92,479.35 L429.95,479.60 L429.99,479.85 L430.02,480.10 L430.05,480.34 L430.08,480.59 L430.11,480.84 L430.14,481.09 L430.17,481.34 L430.20,481.59 L430.23,481.83 L430.27,482.08 L430.30,482.33 L430.33,482.58 L430.36,482.83 L430.39,483.07 L430.42,483.32 L430.45,483.57 L430.48,483.82 L430.52,484.07 L430.55,484.31 L430.58,484.56 L430.61,484.81 L430.64,485.06 L430.68,485.31 L430.71,485.55 L430.74,485.80 L430.77,486.05 L430.81,486.30 L430.84,486.54 L430.87,486.79 L430.91,487.04 L430.94,487.29 L430.97,487.54 L431.01,487.78 L431.04,488.03 L431.08,488.28 L431.11,488.53 L431.15,488.77 L431.18,489.02 L431.22,489.27 L431.26,489.52 L431.29,489.76 L431.33,490.01 L431.36,490.26 L431.40,490.51 L431.44,490.75 L431.48,491.00 L431.52,491.25 L431.55,491.49 L431.56,491.54M431.56,491.54 L431.59,491.74 L431.63,491.99 L431.67,492.23 L431.71,492.48 L431.75,492.73 L431.79,492.97 L431.83,493.22 L431.87,493.47 L431.91,493.71 L431.95,493.96 L431.99,494.21 L432.03,494.45 L432.08,494.70 L432.12,494.95 L432.16,495.19 L432.20,495.44 L432.24,495.69 L432.29,495.93 L432.33,496.18 L432.37,496.43 L432.42,496.67 L432.46,496.92 L432.50,497.16 L432.54,497.41 L432.59,497.66 L432.63,497.90 L432.67,498.15 L432.72,498.40 L432.76,498.64 L432.81,498.89 L432.85,499.13 L432.89,499.38 L432.94,499.63 L432.98,499.87 L433.02,500.12 L433.07,500.37 L433.11,500.61 L433.16,500.86 L433.20,501.10 L433.24,501.35 L433.29,501.60 L433.33,501.84 L433.37,502.09 L433.42,502.34 L433.46,502.58 L433.50,502.83 L433.54,503.07 L433.59,503.32 L433.63,503.57 L433.67,503.81 L433.71,504.06 L433.76,504.31 L433.80,504.55 L433.84,504.80 L433.88,505.05 L433.92,505.29 L433.97,505.54 L434.01,505.78 L434.05,506.03 L434.09,506.28 L434.13,506.52 L434.17,506.77 L434.21,507.02 L434.25,507.26 L434.29,507.51 L434.33,507.76 L434.37,508.00 L434.41,508.25 L434.45,508.50 L434.49,508.75 L434.53,508.99 L434.57,509.24 L434.61,509.49 L434.65,509.73 L434.69,509.98 L434.72,510.14M434.72,510.14 L434.73,510.23 L434.77,510.47 L434.81,510.72 L434.85,510.97 L434.89,511.21 L434.93,511.46 L434.97,511.71 L435.01,511.95 L435.05,512.20 L435.09,512.45 L435.13,512.69 L435.17,512.94 L435.21,513.19 L435.25,513.43 L435.29,513.68 L435.33,513.93 L435.37,514.18 L435.41,514.42 L435.45,514.67 L435.49,514.92 L435.53,515.16 L435.57,515.41 L435.61,515.66 L435.65,515.90 L435.69,516.15 L435.74,516.40 L435.78,516.64 L435.82,516.89 L435.86,517.14 L435.90,517.38 L435.94,517.63 L435.98,517.88 L436.02,518.12 L436.06,518.37 L436.10,518.62 L436.14,518.86 L436.19,519.11 L436.23,519.36 L436.27,519.60 L436.31,519.85 L436.35,520.10 L436.39,520.34 L436.43,520.59 L436.47,520.84 L436.51,521.08 L436.56,521.33 L436.60,521.57 L436.64,521.82 L436.68,522.07 L436.72,522.31 L436.76,522.56 L436.80,522.81 L436.84,523.05 L436.89,523.30 L436.93,523.55 L436.97,523.79 L437.01,524.04 L437.05,524.29 L437.09,524.53 L437.14,524.78 L437.18,525.03 L437.22,525.27 L437.26,525.52 L437.30,525.77 L437.35,526.01 L437.39,526.26 L437.43,526.50 L437.47,526.75 L437.52,527.00 L437.56,527.24 L437.60,527.49 L437.65,527.74 L437.69,527.98 L437.73,528.23 L437.78,528.47 L437.82,528.72 L437.87,528.97 L437.88,529.03M437.88,529.03 L437.91,529.21 L437.96,529.46 L438.00,529.70 L438.05,529.95 L438.10,530.20 L438.14,530.44 L438.19,530.69 L438.24,530.93 L438.29,531.18 L438.33,531.42 L438.38,531.67 L438.43,531.91 L438.48,532.16 L438.53,532.40 L438.58,532.65 L438.64,532.89 L438.69,533.14 L438.74,533.38 L438.80,533.62 L438.85,533.87 L438.91,534.11 L438.96,534.36 L439.02,534.60 L439.07,534.84 L439.13,535.09 L439.19,535.33 L439.25,535.57 L439.31,535.81 L439.37,536.06 L439.43,536.30 L439.49,536.54 L439.55,536.79 L439.61,537.03 L439.67,537.27 L439.73,537.51 L439.79,537.75 L439.85,538.00 L439.91,538.24 L439.97,538.48 L440.03,538.72 L440.10,538.97 L440.16,539.21 L440.22,539.45 L440.27,539.70 L440.33,539.94 L440.39,540.18 L440.45,540.42 L440.51,540.67 L440.56,540.91 L440.62,541.15 L440.67,541.40 L440.73,541.64 L440.78,541.89 L440.83,542.13 L440.89,542.37 L440.94,542.62 L440.99,542.86 L441.04,543.11M441.04,543.11 L441.04,543.11 L441.09,543.35 L441.14,543.60 L441.19,543.84 L441.24,544.09 L441.29,544.33 L441.34,544.58 L441.38,544.82 L441.43,545.07 L441.48,545.31 L441.53,545.56 L441.58,545.81 L441.63,546.05 L441.68,546.30 L441.73,546.54 L441.77,546.79 L441.82,547.03 L441.88,547.27 L441.93,547.52 L441.98,547.76 L442.03,548.01 L442.08,548.25 L442.14,548.50 L442.19,548.74 L442.24,548.99 L442.30,549.23 L442.35,549.47 L442.41,549.72 L442.47,549.96 L442.53,550.20 L442.58,550.45 L442.64,550.69 L442.70,550.93 L442.76,551.17 L442.82,551.42 L442.88,551.66 L442.95,551.90 L443.01,552.14 L443.07,552.39 L443.13,552.63 L443.20,552.87 L443.26,553.11 L443.33,553.35 L443.39,553.59 L443.46,553.83 L443.53,554.07 L443.59,554.32 L443.66,554.56 L443.73,554.80 L443.80,555.04 L443.87,555.28 L443.94,555.52 L444.01,555.76 L444.08,556.00 L444.15,556.24 L444.20,556.42M444.20,556.42 L444.22,556.48 L444.29,556.72 L444.36,556.96 L444.43,557.20 L444.50,557.44 L444.57,557.68 L444.65,557.91 L444.72,558.15 L444.79,558.39 L444.86,558.63 L444.94,558.87 L445.01,559.11 L445.08,559.35 L445.16,559.59 L445.23,559.83 L445.30,560.07 L445.38,560.30 L445.45,560.54 L445.53,560.78 L445.60,561.02 L445.68,561.26 L445.75,561.50 L445.83,561.74 L445.90,561.98 L445.98,562.21 L446.05,562.45 L446.13,562.69 L446.20,562.93 L446.28,563.17 L446.35,563.41 L446.43,563.64 L446.50,563.88 L446.58,564.12 L446.66,564.36 L446.73,564.60 L446.81,564.83 L446.89,565.07 L446.96,565.31 L447.04,565.55 L447.12,565.79 L447.19,566.02 L447.27,566.26 L447.35,566.50 L447.36,566.53M447.36,566.53 L447.43,566.74 L447.50,566.97 L447.58,567.21 L447.66,567.45 L447.74,567.69 L447.82,567.92 L447.90,568.16 L447.97,568.40 L448.05,568.64 L448.13,568.87 L448.21,569.11 L448.29,569.35 L448.37,569.58 L448.45,569.82 L448.53,570.06 L448.61,570.30 L448.69,570.53 L448.77,570.77 L448.85,571.01 L448.93,571.24 L449.01,571.48 L449.09,571.71 L449.18,571.95 L449.26,572.19 L449.34,572.42 L449.42,572.66 L449.50,572.90 L449.59,573.13 L449.67,573.37 L449.76,573.60 L449.84,573.84 L449.92,574.07 L450.01,574.31 L450.09,574.54 L450.18,574.78 L450.27,575.01 L450.35,575.25 L450.44,575.48 L450.52,575.70M450.52,575.70 L450.53,575.72 L450.62,575.95 L450.70,576.18 L450.79,576.42 L450.88,576.65 L450.97,576.88 L451.06,577.12 L451.15,577.35 L451.25,577.58 L451.34,577.81 L451.43,578.05 L451.52,578.28 L451.62,578.51 L451.71,578.74 L451.81,578.97 L451.90,579.20 L452.00,579.43 L452.10,579.66 L452.19,579.89 L452.29,580.12 L452.39,580.35 L452.49,580.58 L452.59,580.81 L452.69,581.04 L452.79,581.27 L452.90,581.50 L453.00,581.72 L453.10,581.95 L453.21,582.18 L453.32,582.40 L453.42,582.63 L453.53,582.85 L453.64,583.08 L453.68,583.16M453.68,583.16 L453.75,583.30 L453.86,583.53 L453.97,583.75 L454.08,583.97 L454.20,584.20 L454.31,584.42 L454.43,584.64 L454.55,584.86 L454.67,585.08 L454.79,585.30 L454.91,585.51 L455.03,585.73 L455.15,585.95 L455.28,586.16 L455.41,586.38 L455.53,586.59 L455.66,586.81 L455.79,587.02 L455.92,587.23 L456.06,587.44 L456.19,587.65 L456.33,587.86 L456.46,588.07 L456.60,588.28 L456.74,588.49 L456.84,588.64M456.84,588.64 L456.88,588.70 L457.02,588.90 L457.16,589.11 L457.30,589.31 L457.44,589.52 L457.59,589.72 L457.73,589.93 L457.88,590.13 L458.03,590.33 L458.17,590.53 L458.32,590.73 L458.47,590.93 L458.62,591.13 L458.77,591.33 L458.93,591.53 L459.08,591.73 L459.23,591.92 L459.39,592.12 L459.54,592.32 L459.70,592.51 L459.86,592.70 L460.00,592.88M460.00,592.88 L460.01,592.90 L460.17,593.09 L460.33,593.28 L460.50,593.47 L460.66,593.66 L460.82,593.85 L460.99,594.04 L461.15,594.23 L461.32,594.41 L461.48,594.60 L461.65,594.78 L461.82,594.97 L461.99,595.15 L462.16,595.33 L462.33,595.51 L462.50,595.69 L462.68,595.87 L462.85,596.05 L463.03,596.23 L463.16,596.37M463.16,596.37 L463.20,596.41 L463.38,596.59 L463.55,596.76 L463.73,596.94 L463.91,597.12 L464.09,597.29 L464.27,597.46 L464.45,597.64 L464.63,597.81 L464.81,597.98 L464.99,598.15 L465.17,598.32 L465.36,598.49 L465.54,598.65 L465.73,598.82 L465.92,598.98 L466.11,599.15 L466.30,599.31 L466.32,599.33M466.32,599.33 L466.49,599.47 L466.68,599.62 L466.87,599.78 L467.07,599.93 L467.27,600.08 L467.46,600.23 L467.66,600.38 L467.87,600.53 L468.07,600.67 L468.27,600.81 L468.48,600.95 L468.69,601.09 L468.90,601.22 L469.11,601.36 L469.32,601.49 L469.48,601.59M469.48,601.59 L469.53,601.62 L469.74,601.75 L469.96,601.88 L470.17,602.00 L470.39,602.13 L470.60,602.25 L470.82,602.37 L471.04,602.49 L471.26,602.61 L471.48,602.73 L471.70,602.85 L471.92,602.97 L472.14,603.08 L472.36,603.20 L472.59,603.31 L472.64,603.34M472.64,603.34 L472.81,603.42 L473.03,603.53 L473.26,603.64 L473.48,603.75 L473.71,603.86 L473.93,603.96 L474.16,604.07 L474.38,604.17 L474.61,604.27 L474.84,604.37 L475.07,604.47 L475.30,604.57 L475.53,604.66 L475.76,604.75 L475.80,604.77M475.80,604.77 L475.99,604.84 L476.22,604.93 L476.46,605.01 L476.69,605.10 L476.93,605.18 L477.16,605.25 L477.40,605.33 L477.64,605.40 L477.88,605.47 L478.12,605.54 L478.36,605.60 L478.60,605.67 L478.84,605.73 L478.96,605.76M478.96,605.76 L479.08,605.79 L479.32,605.85 L479.57,605.90 L479.81,605.96 L480.05,606.01 L480.30,606.06 L480.54,606.11 L480.79,606.16 L481.03,606.21 L481.28,606.26 L481.52,606.30 L481.77,606.35 L482.01,606.39 L482.12,606.41M482.12,606.41 L482.26,606.43 L482.51,606.47 L482.75,606.52 L483.00,606.56 L483.25,606.60 L483.49,606.64 L483.74,606.68 L483.99,606.71 L484.23,606.75 L484.48,606.79 L484.73,606.83 L484.98,606.86 L485.22,606.90 L485.28,606.91M485.28,606.91 L485.47,606.94 L485.72,606.97 L485.96,607.01 L486.21,607.04 L486.46,607.07 L486.71,607.11 L486.96,607.14 L487.20,607.17 L487.45,607.21 L487.70,607.24 L487.95,607.27 L488.20,607.30 L488.44,607.33M488.44,607.33 L488.44,607.33 L488.69,607.36 L488.94,607.39 L489.19,607.42 L489.44,607.45 L489.68,607.48 L489.93,607.51 L490.18,607.53 L490.43,607.56 L490.68,607.59 L490.93,607.61 L491.18,607.64 L491.42,607.66 L491.60,607.68M491.60,607.68 L491.67,607.69 L491.92,607.71 L492.17,607.74 L492.42,607.76 L492.67,607.78 L492.92,607.80 L493.17,607.83 L493.42,607.85 L493.66,607.87 L493.91,607.89 L494.16,607.91 L494.41,607.92 L494.66,607.94 L494.76,607.95M494.76,607.95 L494.91,607.96 L495.16,607.98 L495.41,607.99 L495.66,608.01 L495.91,608.03 L496.16,608.04 L496.41,608.06 L496.66,608.07 L496.91,608.09 L497.16,608.10 L497.41,608.11 L497.66,608.13 L497.91,608.14 L497.92,608.14M497.92,608.14 L498.16,608.15 L498.40,608.16 L498.65,608.18 L498.90,608.19 L499.15,608.20 L499.40,608.21 L499.65,608.22 L499.90,608.23 L500.15,608.24 L500.40,608.25 L500.65,608.26 L500.90,608.27 L501.08,608.28M501.08,608.28 L501.15,608.28 L501.40,608.29 L501.65,608.30 L501.90,608.31 L502.15,608.32 L502.40,608.33 L502.65,608.34 L502.90,608.34 L503.15,608.35 L503.40,608.36 L503.65,608.37 L503.90,608.38 L504.15,608.38 L504.24,608.39M504.24,608.39 L504.40,608.39 L504.65,608.40 L504.90,608.41 L505.15,608.41 L505.40,608.42 L505.65,608.43 L505.90,608.43 L506.15,608.44 L506.40,608.45 L506.65,608.45 L506.90,608.46 L507.15,608.46 L507.40,608.47 L507.40,608.47M507.40,608.47 L507.65,608.47 L507.90,608.48 L508.15,608.48 L508.40,608.49 L508.65,608.49 L508.90,608.50 L509.15,608.50 L509.40,608.51 L509.65,608.51 L509.90,608.51 L510.15,608.52 L510.40,608.52 L510.56,608.52M510.56,608.52 L510.65,608.52 L510.90,608.53 L511.15,608.53 L511.40,608.53 L511.65,608.54 L511.90,608.54 L512.15,608.54 L512.40,608.55 L512.65,608.55 L512.90,608.55 L513.15,608.55 L513.40,608.56 L513.65,608.56 L513.72,608.56M513.72,608.56 L513.90,608.56 L514.15,608.56 L514.40,608.57 L514.65,608.57 L514.90,608.57 L515.15,608.58 L515.40,608.58 L515.65,608.58 L515.90,608.58 L516.15,608.59 L516.40,608.59 L516.65,608.59 L516.88,608.59M516.88,608.59 L516.90,608.59 L517.15,608.60 L517.40,608.60 L517.65,608.60 L517.90,608.61 L518.15,608.61 L518.40,608.61 L518.65,608.61 L518.90,608.62 L519.15,608.62 L519.40,608.62 L519.65,608.62 L519.90,608.63 L520.04,608.63M520.04,608.63 L520.15,608.63 L520.40,608.63 L520.65,608.63 L520.90,608.64 L521.15,608.64 L521.40,608.64 L521.65,608.64 L521.90,608.65 L522.15,608.65 L522.40,608.65 L522.65,608.65 L522.90,608.66 L523.15,608.66 L523.20,608.66M523.20,608.66 L523.40,608.66 L523.65,608.66 L523.90,608.67 L524.15,608.67 L524.40,608.67 L524.65,608.68 L524.90,608.68 L525.15,608.68 L525.40,608.69 L525.65,608.69 L525.90,608.70 L526.15,608.70 L526.36,608.71M526.36,608.71 L526.40,608.71 L526.65,608.71 L526.90,608.72 L527.15,608.72 L527.40,608.73 L527.65,608.74 L527.90,608.74 L528.15,608.75 L528.40,608.76 L528.65,608.77 L528.90,608.77 L529.15,608.78 L529.40,608.79 L529.52,608.80M529.52,608.80 L529.65,608.80 L529.90,608.81 L530.15,608.82 L530.40,608.83 L530.65,608.85 L530.90,608.86 L531.15,608.87 L531.40,608.88 L531.64,608.90 L531.89,608.91 L532.14,608.93 L532.39,608.94 L532.64,608.96 L532.68,608.96M532.68,608.96 L532.89,608.98 L533.14,608.99 L533.39,609.01 L533.64,609.03 L533.89,609.05 L534.14,609.06 L534.39,609.08 L534.64,609.10 L534.89,609.12 L535.14,609.14 L535.38,609.17 L535.63,609.19 L535.84,609.20M535.84,609.20 L535.88,609.21 L536.13,609.23 L536.38,609.25 L536.63,609.28 L536.88,609.30 L537.13,609.32 L537.38,609.35 L537.63,609.37 L537.87,609.39 L538.12,609.42 L538.37,609.44 L538.62,609.47 L538.87,609.49 L539.00,609.50M539.00,609.50 L539.12,609.52 L539.37,609.54 L539.62,609.57 L539.86,609.59 L540.11,609.62 L540.36,609.65 L540.61,609.67 L540.86,609.70 L541.11,609.72 L541.36,609.75 L541.60,609.78 L541.85,609.80 L542.10,609.83 L542.16,609.84M542.16,609.84 L542.35,609.86 L542.60,609.89 L542.85,609.91 L543.10,609.94 L543.34,609.97 L543.59,610.00 L543.84,610.03 L544.09,610.06 L544.34,610.08 L544.59,610.11 L544.83,610.14 L545.08,610.17 L545.32,610.20M545.32,610.20 L545.33,610.20 L545.58,610.23 L545.83,610.26 L546.08,610.29 L546.32,610.32 L546.57,610.35 L546.82,610.38 L547.07,610.41 L547.32,610.43 L547.57,610.46 L547.81,610.49 L548.06,610.52 L548.31,610.55 L548.48,610.57M548.48,610.57 L548.56,610.58 L548.81,610.61 L549.05,610.64 L549.30,610.67 L549.55,610.70 L549.80,610.73 L550.05,610.76 L550.30,610.79 L550.54,610.82 L550.79,610.85 L551.04,610.88 L551.29,610.91 L551.54,610.94 L551.64,610.96M551.64,610.96 L551.79,610.97 L552.03,611.00 L552.28,611.03 L552.53,611.06 L552.78,611.09 L553.03,611.12 L553.27,611.15 L553.52,611.18 L553.77,611.21 L554.02,611.24 L554.27,611.27 L554.52,611.30 L554.76,611.33 L554.80,611.34M554.80,611.34 L555.01,611.36 L555.26,611.39 L555.51,611.42 L555.76,611.45 L556.00,611.49 L556.25,611.52 L556.50,611.55 L556.75,611.58 L557.00,611.61 L557.25,611.64 L557.49,611.67 L557.74,611.70 L557.96,611.72M557.96,611.72 L557.99,611.73 L558.24,611.76 L558.49,611.79 L558.73,611.82 L558.98,611.85 L559.23,611.88 L559.48,611.91 L559.73,611.94 L559.98,611.97 L560.22,612.00 L560.47,612.03 L560.72,612.06 L560.97,612.10 L561.12,612.11M561.12,612.11 L561.22,612.13 L561.46,612.16 L561.71,612.19 L561.96,612.22 L562.21,612.25 L562.46,612.28 L562.70,612.31 L562.95,612.34 L563.20,612.37 L563.45,612.41 L563.70,612.44 L563.94,612.47 L564.19,612.50 L564.28,612.51M564.28,612.51 L564.44,612.53 L564.69,612.56 L564.94,612.59 L565.18,612.63 L565.43,612.66 L565.68,612.69 L565.93,612.72 L566.18,612.75 L566.42,612.78 L566.67,612.81 L566.92,612.85 L567.17,612.88 L567.42,612.91 L567.44,612.91M567.44,612.91 L567.66,612.94 L567.91,612.97 L568.16,613.01 L568.41,613.04 L568.66,613.07 L568.90,613.10 L569.15,613.13 L569.40,613.16 L569.65,613.20 L569.90,613.23 L570.14,613.26 L570.39,613.29 L570.60,613.32M570.60,613.32 L570.64,613.33 L570.89,613.36 L571.14,613.39 L571.38,613.42 L571.63,613.45 L571.88,613.49 L572.13,613.52 L572.38,613.55 L572.62,613.58 L572.87,613.62 L573.12,613.65 L573.37,613.68 L573.62,613.72 L573.76,613.73M573.76,613.73 L573.86,613.75 L574.11,613.78 L574.36,613.81 L574.61,613.85 L574.85,613.88 L575.10,613.91 L575.35,613.95 L575.60,613.98 L575.85,614.01 L576.09,614.05 L576.34,614.08 L576.59,614.11 L576.84,614.15 L576.92,614.16M576.92,614.16 L577.08,614.18 L577.33,614.21 L577.58,614.25 L577.83,614.28 L578.08,614.31 L578.32,614.35 L578.57,614.38 L578.82,614.41 L579.07,614.45 L579.31,614.48 L579.56,614.52 L579.81,614.55 L580.06,614.58 L580.08,614.59M580.08,614.59 L580.30,614.62 L580.55,614.65 L580.80,614.69 L581.05,614.72 L581.30,614.75 L581.54,614.79 L581.79,614.82 L582.04,614.86 L582.29,614.89 L582.53,614.93 L582.78,614.96 L583.03,615.00 L583.24,615.03M583.24,615.03 L583.28,615.03 L583.52,615.07 L583.77,615.10 L584.02,615.14 L584.27,615.17 L584.51,615.21 L584.76,615.24 L585.01,615.28 L585.26,615.31 L585.50,615.35 L585.75,615.38 L586.00,615.42 L586.25,615.45 L586.40,615.48M586.40,615.48 L586.49,615.49 L586.74,615.53 L586.99,615.56 L587.24,615.60 L587.48,615.63 L587.73,615.67 L587.98,615.71 L588.23,615.74 L588.47,615.78 L588.72,615.81 L588.97,615.85 L589.22,615.89 L589.46,615.93 L589.56,615.94M589.56,615.94 L589.71,615.96 L589.96,616.00 L590.20,616.04 L590.45,616.07 L590.70,616.11 L590.95,616.15 L591.19,616.19 L591.44,616.22 L591.69,616.26 L591.93,616.30 L592.18,616.34 L592.43,616.38 L592.68,616.41 L592.72,616.42M592.72,616.42 L592.92,616.45 L593.17,616.49 L593.42,616.53 L593.66,616.57 L593.91,616.61 L594.16,616.65 L594.40,616.69 L594.65,616.72 L594.90,616.76 L595.15,616.80 L595.39,616.84 L595.64,616.88 L595.88,616.92M595.88,616.92 L595.89,616.92 L596.13,616.96 L596.38,617.00 L596.63,617.04 L596.87,617.08 L597.12,617.12 L597.37,617.17 L597.61,617.21 L597.86,617.25 L598.11,617.29 L598.35,617.33 L598.60,617.37 L598.85,617.41 L599.04,617.45M599.04,617.45 L599.09,617.46 L599.34,617.50 L599.58,617.54 L599.83,617.58 L600.08,617.62 L600.32,617.67 L600.57,617.71 L600.82,617.75 L601.06,617.80 L601.31,617.84 L601.56,617.88 L601.80,617.93 L602.05,617.97 L602.20,618.00M602.20,618.00 L602.29,618.02 L602.54,618.06 L602.79,618.11 L603.03,618.15 L603.28,618.20 L603.52,618.24 L603.77,618.28 L604.02,618.33 L604.26,618.37 L604.51,618.42 L604.75,618.46 L605.00,618.51 L605.24,618.55 L605.36,618.58M605.36,618.58 L605.49,618.60 L605.74,618.64 L605.98,618.69 L606.23,618.73 L606.47,618.78 L606.72,618.82 L606.97,618.87 L607.21,618.91 L607.46,618.95 L607.71,619.00 L607.95,619.04 L608.20,619.08 L608.44,619.13 L608.52,619.14M608.52,619.14 L608.69,619.17 L608.94,619.21 L609.18,619.25 L609.43,619.29 L609.68,619.34 L609.92,619.38 L610.17,619.42 L610.42,619.46 L610.66,619.50 L610.91,619.54 L611.16,619.58 L611.40,619.62 L611.65,619.66 L611.68,619.67M611.68,619.67 L611.90,619.70 L612.14,619.74 L612.39,619.78 L612.64,619.82 L612.88,619.86 L613.13,619.90 L613.38,619.94 L613.63,619.97 L613.87,620.01 L614.12,620.05 L614.37,620.08 L614.61,620.12 L614.84,620.15M614.84,620.15 L614.86,620.16 L615.11,620.19 L615.36,620.23 L615.60,620.26 L615.85,620.29 L616.10,620.33 L616.35,620.36 L616.60,620.39 L616.84,620.42 L617.09,620.45 L617.34,620.49 L617.59,620.52 L617.84,620.54 L618.00,620.56M618.00,620.56 L618.08,620.57 L618.33,620.60 L618.58,620.63 L618.83,620.65 L619.08,620.68 L619.33,620.71 L619.58,620.73 L619.82,620.76 L620.07,620.78 L620.32,620.80 L620.57,620.83 L620.82,620.85 L621.07,620.87 L621.16,620.88M621.16,620.88 L621.32,620.89 L621.57,620.91 L621.82,620.93 L622.07,620.95 L622.31,620.97 L622.56,620.99 L622.81,621.01 L623.06,621.03 L623.31,621.05 L623.56,621.07 L623.81,621.09 L624.06,621.10 L624.31,621.12 L624.32,621.12M624.32,621.12 L624.56,621.14 L624.81,621.16 L625.06,621.17 L625.31,621.19 L625.56,621.20 L625.81,621.22 L626.06,621.24 L626.30,621.25 L626.55,621.27 L626.80,621.28 L627.05,621.30 L627.30,621.31 L627.48,621.32M627.48,621.32 L627.55,621.33 L627.80,621.34 L628.05,621.35 L628.30,621.37 L628.55,621.38 L628.80,621.40 L629.05,621.41 L629.30,621.42 L629.55,621.44 L629.80,621.45 L630.05,621.46 L630.30,621.47 L630.55,621.49 L630.64,621.49M630.64,621.49 L630.80,621.50 L631.05,621.51 L631.30,621.52 L631.55,621.54 L631.80,621.55 L632.05,621.56 L632.30,621.57 L632.55,621.58 L632.80,621.60 L633.05,621.61 L633.30,621.62 L633.55,621.63 L633.79,621.64 L633.80,621.64M633.80,621.64 L634.04,621.65 L634.29,621.66 L634.54,621.67 L634.79,621.68 L635.04,621.69 L635.29,621.70 L635.54,621.71 L635.79,621.72 L636.04,621.73 L636.29,621.74 L636.54,621.75 L636.79,621.76 L636.96,621.77M636.96,621.77 L637.04,621.77 L637.29,621.78 L637.54,621.79 L637.79,621.79 L638.04,621.80 L638.29,621.81 L638.54,621.82 L638.79,621.83 L639.04,621.83 L639.29,621.84 L639.54,621.85 L639.79,621.85 L640.04,621.86 L640.12,621.86M640.12,621.86 L640.29,621.87 L640.54,621.87 L640.79,621.88 L641.04,621.89 L641.29,621.89 L641.54,621.90 L641.79,621.91 L642.04,621.91 L642.29,621.92 L642.54,621.92 L642.79,621.93 L643.04,621.93 L643.28,621.94M643.28,621.94 L643.29,621.94 L643.54,621.95 L643.79,621.95 L644.04,621.96 L644.29,621.96 L644.54,621.97 L644.79,621.97 L645.04,621.98 L645.29,621.99 L645.54,621.99 L645.79,622.00 L646.04,622.00 L646.29,622.01 L646.44,622.01M646.44,622.01 L646.54,622.01 L646.79,622.02 L647.04,622.03 L647.29,622.03 L647.54,622.04 L647.79,622.05 L648.04,622.05 L648.29,622.06 L648.54,622.06 L648.79,622.07 L649.04,622.08 L649.29,622.09 L649.54,622.09 L649.60,622.09M649.60,622.09 L649.79,622.10 L650.04,622.11 L650.29,622.11 L650.54,622.12 L650.79,622.13 L651.04,622.14 L651.29,622.14 L651.54,622.15 L651.79,622.16 L652.04,622.17 L652.29,622.17 L652.54,622.18 L652.76,622.19M652.76,622.19 L652.79,622.19 L653.04,622.20 L653.29,622.20 L653.54,622.21 L653.79,622.22 L654.04,622.23 L654.29,622.24 L654.54,622.25 L654.79,622.25 L655.04,622.26 L655.29,622.27 L655.54,622.28 L655.79,622.29 L655.92,622.29M655.92,622.29 L656.04,622.30 L656.29,622.30 L656.54,622.31 L656.79,622.32 L657.04,622.33 L657.29,622.34 L657.54,622.35 L657.79,622.35 L658.04,622.36 L658.29,622.37 L658.53,622.38 L658.78,622.39 L659.03,622.40 L659.08,622.40M659.08,622.40 L659.28,622.41 L659.53,622.41 L659.78,622.42 L660.03,622.43 L660.28,622.44 L660.53,622.45 L660.78,622.46 L661.03,622.46 L661.28,622.47 L661.53,622.48 L661.78,622.49 L662.03,622.50 L662.24,622.51M662.24,622.51 L662.28,622.51 L662.53,622.52 L662.78,622.52 L663.03,622.53 L663.28,622.54 L663.53,622.55 L663.78,622.56 L664.03,622.57 L664.28,622.58 L664.53,622.58 L664.78,622.59 L665.03,622.60 L665.28,622.61 L665.40,622.61M665.40,622.61 L665.53,622.62 L665.78,622.63 L666.03,622.63 L666.28,622.64 L666.53,622.65 L666.78,622.66 L667.03,622.67 L667.28,622.68 L667.53,622.69 L667.78,622.69 L668.03,622.70 L668.28,622.71 L668.53,622.72 L668.56,622.72M668.56,622.72 L668.78,622.73 L669.03,622.74 L669.28,622.74 L669.53,622.75 L669.78,622.76 L670.03,622.77 L670.28,622.78 L670.53,622.79 L670.78,622.80 L671.03,622.80 L671.28,622.81 L671.53,622.82 L671.72,622.83M671.72,622.83 L671.78,622.83 L672.03,622.84 L672.28,622.85 L672.53,622.85 L672.78,622.86 L673.03,622.87 L673.28,622.88 L673.53,622.89 L673.78,622.90 L674.03,622.91 L674.28,622.91 L674.53,622.92 L674.78,622.93 L674.88,622.93M674.88,622.93 L675.03,622.94 L675.28,622.95 L675.53,622.95 L675.78,622.96 L676.03,622.97 L676.28,622.98 L676.53,622.99 L676.78,623.00 L677.03,623.00 L677.28,623.01 L677.53,623.02 L677.78,623.03 L678.03,623.04 L678.04,623.04M678.04,623.04 L678.28,623.04 L678.52,623.05 L678.77,623.06 L679.02,623.07 L679.27,623.08 L679.52,623.08 L679.77,623.09 L680.02,623.10 L680.27,623.11 L680.52,623.12 L680.77,623.12 L681.02,623.13 L681.20,623.14M681.20,623.14 L681.27,623.14 L681.52,623.15 L681.77,623.16 L682.02,623.16 L682.27,623.17 L682.52,623.18 L682.77,623.19 L683.02,623.19 L683.27,623.20 L683.52,623.21 L683.77,623.22 L684.02,623.23 L684.27,623.23 L684.36,623.24M684.36,623.24 L684.52,623.24 L684.77,623.25 L685.02,623.26 L685.27,623.26 L685.52,623.27 L685.77,623.28 L686.02,623.29 L686.27,623.30 L686.52,623.30 L686.77,623.31 L687.02,623.32 L687.27,623.33 L687.52,623.33M687.52,623.33 L687.52,623.33 L687.77,623.34 L688.02,623.35 L688.27,623.36 L688.52,623.36 L688.77,623.37 L689.02,623.38 L689.27,623.39 L689.52,623.39 L689.77,623.40 L690.02,623.41 L690.27,623.42 L690.52,623.42 L690.68,623.43M690.68,623.43 L690.77,623.43 L691.02,623.44 L691.27,623.45 L691.52,623.45 L691.77,623.46 L692.02,623.47 L692.27,623.48 L692.52,623.48 L692.77,623.49 L693.02,623.50 L693.27,623.51 L693.52,623.51 L693.77,623.52 L693.84,623.52M693.84,623.52 L694.02,623.53 L694.27,623.54 L694.52,623.54 L694.77,623.55 L695.02,623.56 L695.27,623.56 L695.52,623.57 L695.77,623.58 L696.02,623.59 L696.27,623.59 L696.52,623.60 L696.77,623.61 L697.00,623.61M697.00,623.61 L697.02,623.62 L697.27,623.62 L697.52,623.63 L697.77,623.64 L698.02,623.64 L698.27,623.65 L698.52,623.66 L698.77,623.66 L699.02,623.67 L699.27,623.68 L699.52,623.69 L699.77,623.69 L700.02,623.70 L700.16,623.70M700.16,623.70 L700.27,623.71 L700.52,623.71 L700.77,623.72 L701.02,623.73 L701.27,623.74 L701.52,623.74 L701.77,623.75 L702.02,623.76 L702.27,623.76 L702.52,623.77 L702.77,623.78 L703.02,623.79 L703.27,623.79 L703.32,623.79M703.32,623.79 L703.52,623.80 L703.77,623.81 L704.02,623.81 L704.27,623.82 L704.52,623.83 L704.77,623.83 L705.01,623.84 L705.26,623.85 L705.51,623.86 L705.76,623.86 L706.01,623.87 L706.26,623.88 L706.48,623.88M706.48,623.88 L706.51,623.88 L706.76,623.89 L707.01,623.90 L707.26,623.90 L707.51,623.91 L707.76,623.92 L708.01,623.93 L708.26,623.93 L708.51,623.94 L708.76,623.95 L709.01,623.95 L709.26,623.96 L709.51,623.97 L709.64,623.97M709.64,623.97 L709.76,623.97 L710.01,623.98 L710.26,623.99 L710.51,624.00 L710.76,624.00 L711.01,624.01 L711.26,624.02 L711.51,624.02 L711.76,624.03 L712.01,624.04 L712.26,624.04 L712.51,624.05 L712.76,624.06 L712.80,624.06M712.80,624.06 L713.01,624.06 L713.26,624.07 L713.51,624.08 L713.76,624.09 L714.01,624.09 L714.26,624.10 L714.51,624.11 L714.76,624.11 L715.01,624.12 L715.26,624.13 L715.51,624.13 L715.76,624.14 L715.96,624.14M715.96,624.14 L716.01,624.15 L716.26,624.15 L716.51,624.16 L716.76,624.17 L717.01,624.17 L717.26,624.18 L717.51,624.19 L717.76,624.19 L718.01,624.20 L718.26,624.21 L718.51,624.21 L718.76,624.22 L719.01,624.23 L719.12,624.23M719.12,624.23 L719.26,624.23 L719.51,624.24 L719.76,624.24 L720.01,624.25 L720.26,624.26 L720.51,624.26 L720.76,624.27 L721.01,624.28 L721.26,624.28 L721.51,624.29 L721.76,624.30 L722.01,624.30 L722.26,624.31 L722.28,624.31M722.28,624.31 L722.51,624.32 L722.76,624.32 L723.01,624.33 L723.26,624.33 L723.51,624.34 L723.76,624.35 L724.01,624.35 L724.26,624.36 L724.51,624.37 L724.76,624.37 L725.01,624.38 L725.26,624.38 L725.44,624.39M725.44,624.39 L725.51,624.39 L725.76,624.40 L726.01,624.40 L726.26,624.41 L726.51,624.42 L726.76,624.42 L727.01,624.43 L727.26,624.43 L727.51,624.44 L727.76,624.45 L728.01,624.45 L728.26,624.46 L728.51,624.46 L728.60,624.47M728.60,624.47 L728.76,624.47 L729.01,624.48 L729.26,624.48 L729.51,624.49 L729.76,624.49 L730.01,624.50 L730.26,624.51 L730.51,624.51 L730.76,624.52 L731.01,624.52 L731.26,624.53 L731.51,624.53 L731.76,624.54 L731.76,624.54M731.76,624.54 L732.01,624.55 L732.26,624.55 L732.51,624.56 L732.76,624.56 L733.01,624.57 L733.26,624.58 L733.51,624.58 L733.76,624.59 L734.01,624.59 L734.26,624.60 L734.51,624.60 L734.76,624.61 L734.92,624.61M734.92,624.61 L735.01,624.62 L735.26,624.62 L735.51,624.63 L735.76,624.63 L736.01,624.64 L736.26,624.64 L736.51,624.65 L736.76,624.65 L737.01,624.66 L737.26,624.67 L737.51,624.67 L737.76,624.68 L738.01,624.68 L738.08,624.68M738.08,624.68 L738.26,624.69 L738.51,624.69 L738.76,624.70 L739.01,624.70 L739.26,624.71 L739.51,624.72 L739.76,624.72 L740.01,624.73 L740.26,624.73 L740.51,624.74 L740.76,624.74 L741.01,624.75 L741.24,624.75M741.24,624.75 L741.26,624.75 L741.51,624.76 L741.76,624.77 L742.01,624.77 L742.26,624.78 L742.51,624.78 L742.76,624.79 L743.01,624.79 L743.26,624.80 L743.51,624.80 L743.76,624.81 L744.01,624.82 L744.26,624.82 L744.40,624.82M744.40,624.82 L744.51,624.83 L744.76,624.83 L745.01,624.84 L745.26,624.84 L745.50,624.85 L745.75,624.85 L746.00,624.86 L746.25,624.86 L746.50,624.87 L746.75,624.88 L747.00,624.88 L747.25,624.89 L747.50,624.89 L747.56,624.89M747.56,624.89 L747.75,624.90 L748.00,624.90 L748.25,624.91 L748.50,624.91 L748.75,624.92 L749.00,624.92 L749.25,624.93 L749.50,624.93 L749.75,624.94 L750.00,624.95 L750.25,624.95 L750.50,624.96 L750.72,624.96M750.72,624.96 L750.75,624.96 L751.00,624.97 L751.25,624.97 L751.50,624.98 L751.75,624.98 L752.00,624.99 L752.25,624.99 L752.50,625.00 L752.75,625.00 L753.00,625.01 L753.25,625.02 L753.50,625.02 L753.75,625.03 L753.88,625.03M753.88,625.03 L754.00,625.03 L754.25,625.04 L754.50,625.04 L754.75,625.05 L755.00,625.05 L755.25,625.06 L755.50,625.06 L755.75,625.07 L756.00,625.07 L756.25,625.08 L756.50,625.08 L756.75,625.09 L757.00,625.10 L757.04,625.10M757.04,625.10 L757.25,625.10 L757.50,625.11 L757.75,625.11 L758.00,625.12 L758.25,625.12 L758.50,625.13 L758.75,625.13 L759.00,625.14 L759.25,625.14 L759.50,625.15 L759.75,625.15 L760.00,625.16 L760.20,625.16M760.20,625.16 L760.25,625.16 L760.50,625.17 L760.75,625.18 L761.00,625.18 L761.25,625.19 L761.50,625.19 L761.75,625.20 L762.00,625.20 L762.25,625.21 L762.50,625.21 L762.75,625.22 L763.00,625.22 L763.25,625.23 L763.36,625.23M763.36,625.23 L763.50,625.23 L763.75,625.24 L764.00,625.24 L764.25,625.25 L764.50,625.25 L764.75,625.26 L765.00,625.27 L765.25,625.27 L765.50,625.28 L765.75,625.28 L766.00,625.29 L766.25,625.29 L766.50,625.30 L766.52,625.30M766.52,625.30 L766.75,625.30 L767.00,625.31 L767.25,625.31 L767.50,625.32 L767.75,625.32 L768.00,625.33 L768.25,625.33 L768.50,625.34 L768.75,625.35 L769.00,625.35 L769.25,625.36 L769.50,625.36 L769.68,625.36M769.68,625.36 L769.75,625.37 L770.00,625.37 L770.25,625.38 L770.50,625.38 L770.75,625.39 L771.00,625.39 L771.25,625.40 L771.50,625.40 L771.75,625.41 L772.00,625.41 L772.25,625.42 L772.50,625.43 L772.75,625.43 L772.84,625.43M772.84,625.43 L773.00,625.44 L773.25,625.44 L773.50,625.45 L773.75,625.45 L774.00,625.46 L774.25,625.46 L774.50,625.47 L774.75,625.47 L775.00,625.48 L775.25,625.48 L775.50,625.49 L775.75,625.49 L776.00,625.50" fill="none" stroke="#000" stroke-width="3.8" stroke-linecap="round" stroke-dasharray="0 7.2"/>
</g>
<g stroke="#849494" stroke-width="2" fill="none">
<line x1="144" y1="5" x2="144" y2="635"/>
<line x1="137" y1="628" x2="776" y2="628"/>
<line x1="137" y1="539.0" x2="144" y2="539.0"/>
<line x1="137" y1="450.2" x2="144" y2="450.2"/>
<line x1="137" y1="361.3" x2="144" y2="361.3"/>
<line x1="137" y1="272.4" x2="144" y2="272.4"/>
<line x1="137" y1="183.5" x2="144" y2="183.5"/>
<line x1="137" y1="94.7" x2="144" y2="94.7"/>
<line x1="137" y1="5.8" x2="144" y2="5.8"/>
<line x1="341.5" y1="628" x2="341.5" y2="635"/>
<line x1="539.0" y1="628" x2="539.0" y2="635"/>
<line x1="736.5" y1="628" x2="736.5" y2="635"/>
</g>
<g font-size="27.2">
<text x="474.9" y="19.6">H<tspan dy="3.6" font-size="18.2">2</tspan><tspan dy="-3.6">SO</tspan><tspan dy="3.6" font-size="18.2">4</tspan></text>
<text x="636.6" y="72.7">H<tspan dy="3.8" font-size="18.2">o</tspan></text>
<rect x="672.4" y="60.3" width="14.1" height="1.7" fill="#000"/><rect x="672.4" y="65.1" width="14.1" height="1.7" fill="#000"/>
<text x="700.3" y="72.7">-0.01</text>
<text x="636.6" y="134.7">H<tspan dy="3.8" font-size="18.2">o</tspan></text>
<rect x="672.4" y="122.3" width="14.1" height="1.7" fill="#000"/><rect x="672.4" y="127.1" width="14.1" height="1.7" fill="#000"/>
<text x="700.3" y="134.7">-1.80</text>
<text x="636.6" y="196.8">H<tspan dy="3.8" font-size="18.2">o</tspan></text>
<rect x="672.4" y="184.4" width="14.1" height="1.7" fill="#000"/><rect x="672.4" y="189.2" width="14.1" height="1.7" fill="#000"/>
<text x="700.3" y="196.8">-6.20</text>
<text x="636.6" y="258.8">H<tspan dy="3.8" font-size="18.2">o</tspan></text>
<rect x="672.4" y="246.4" width="14.1" height="1.7" fill="#000"/><rect x="672.4" y="251.2" width="14.1" height="1.7" fill="#000"/>
<text x="700.3" y="258.8">-10.84</text>
</g>
<g font-size="24.6">
<text x="521" y="77.4">5.93%</text>
<text x="521" y="139.3">30.84%</text>
<text x="521" y="200.8">71.68%</text>
<text x="521" y="262.3">99.54%</text>
</g>
<g stroke="#000" stroke-width="3.8" fill="none" stroke-linecap="round">
<line x1="456.4" y1="69.9" x2="513" y2="69.9"/>
<line x1="456.4" y1="131.3" x2="513" y2="131.3" stroke-dasharray="25.5 15.1"/>
<line x1="456.4" y1="192.8" x2="507.7" y2="192.8" stroke-dasharray="7 7.4"/>
<line x1="456.3" y1="254.3" x2="508.5" y2="254.3" stroke-width="3.6" stroke-dasharray="0 7.37"/>
</g>
<text x="353.3" y="44.6" font-size="24.4">BH<tspan dy="3.9" font-size="16.3">3</tspan><tspan dy="-10" font-size="16.3">3+</tspan></text>
<text x="350.5" y="442.6" font-size="27.2">BH<tspan dy="4.2" font-size="18.2">2</tspan><tspan dx="-0.7" dy="-11.2" font-size="17.5">2+</tspan></text>
<text x="152" y="593.3" font-size="27.2">BH<tspan dy="-7.6" font-size="18.2">+</tspan></text>
<text x="377" y="561.2" font-size="26.6">B</text>
<g stroke="#000" stroke-width="1.75" fill="none" stroke-linecap="round" stroke-linejoin="miter">
<line x1="380.7" y1="57.3" x2="380.7" y2="98.5"/><polyline points="371,81.6 380.7,98.5 390.4,81.6"/>
<line x1="383.2" y1="464" x2="383.2" y2="504.5"/><polyline points="373.9,488.3 383.2,504.5 392.8,488.3"/>
<line x1="195.2" y1="602.2" x2="238.4" y2="602.8"/><polyline points="220.8,593.4 238.4,602.8 220.6,612.1"/>
<line x1="370.9" y1="569.9" x2="338.7" y2="604.2"/><polyline points="343.8,585.1 338.7,604.2 357.4,598"/>
</g>
</svg></body></html>
